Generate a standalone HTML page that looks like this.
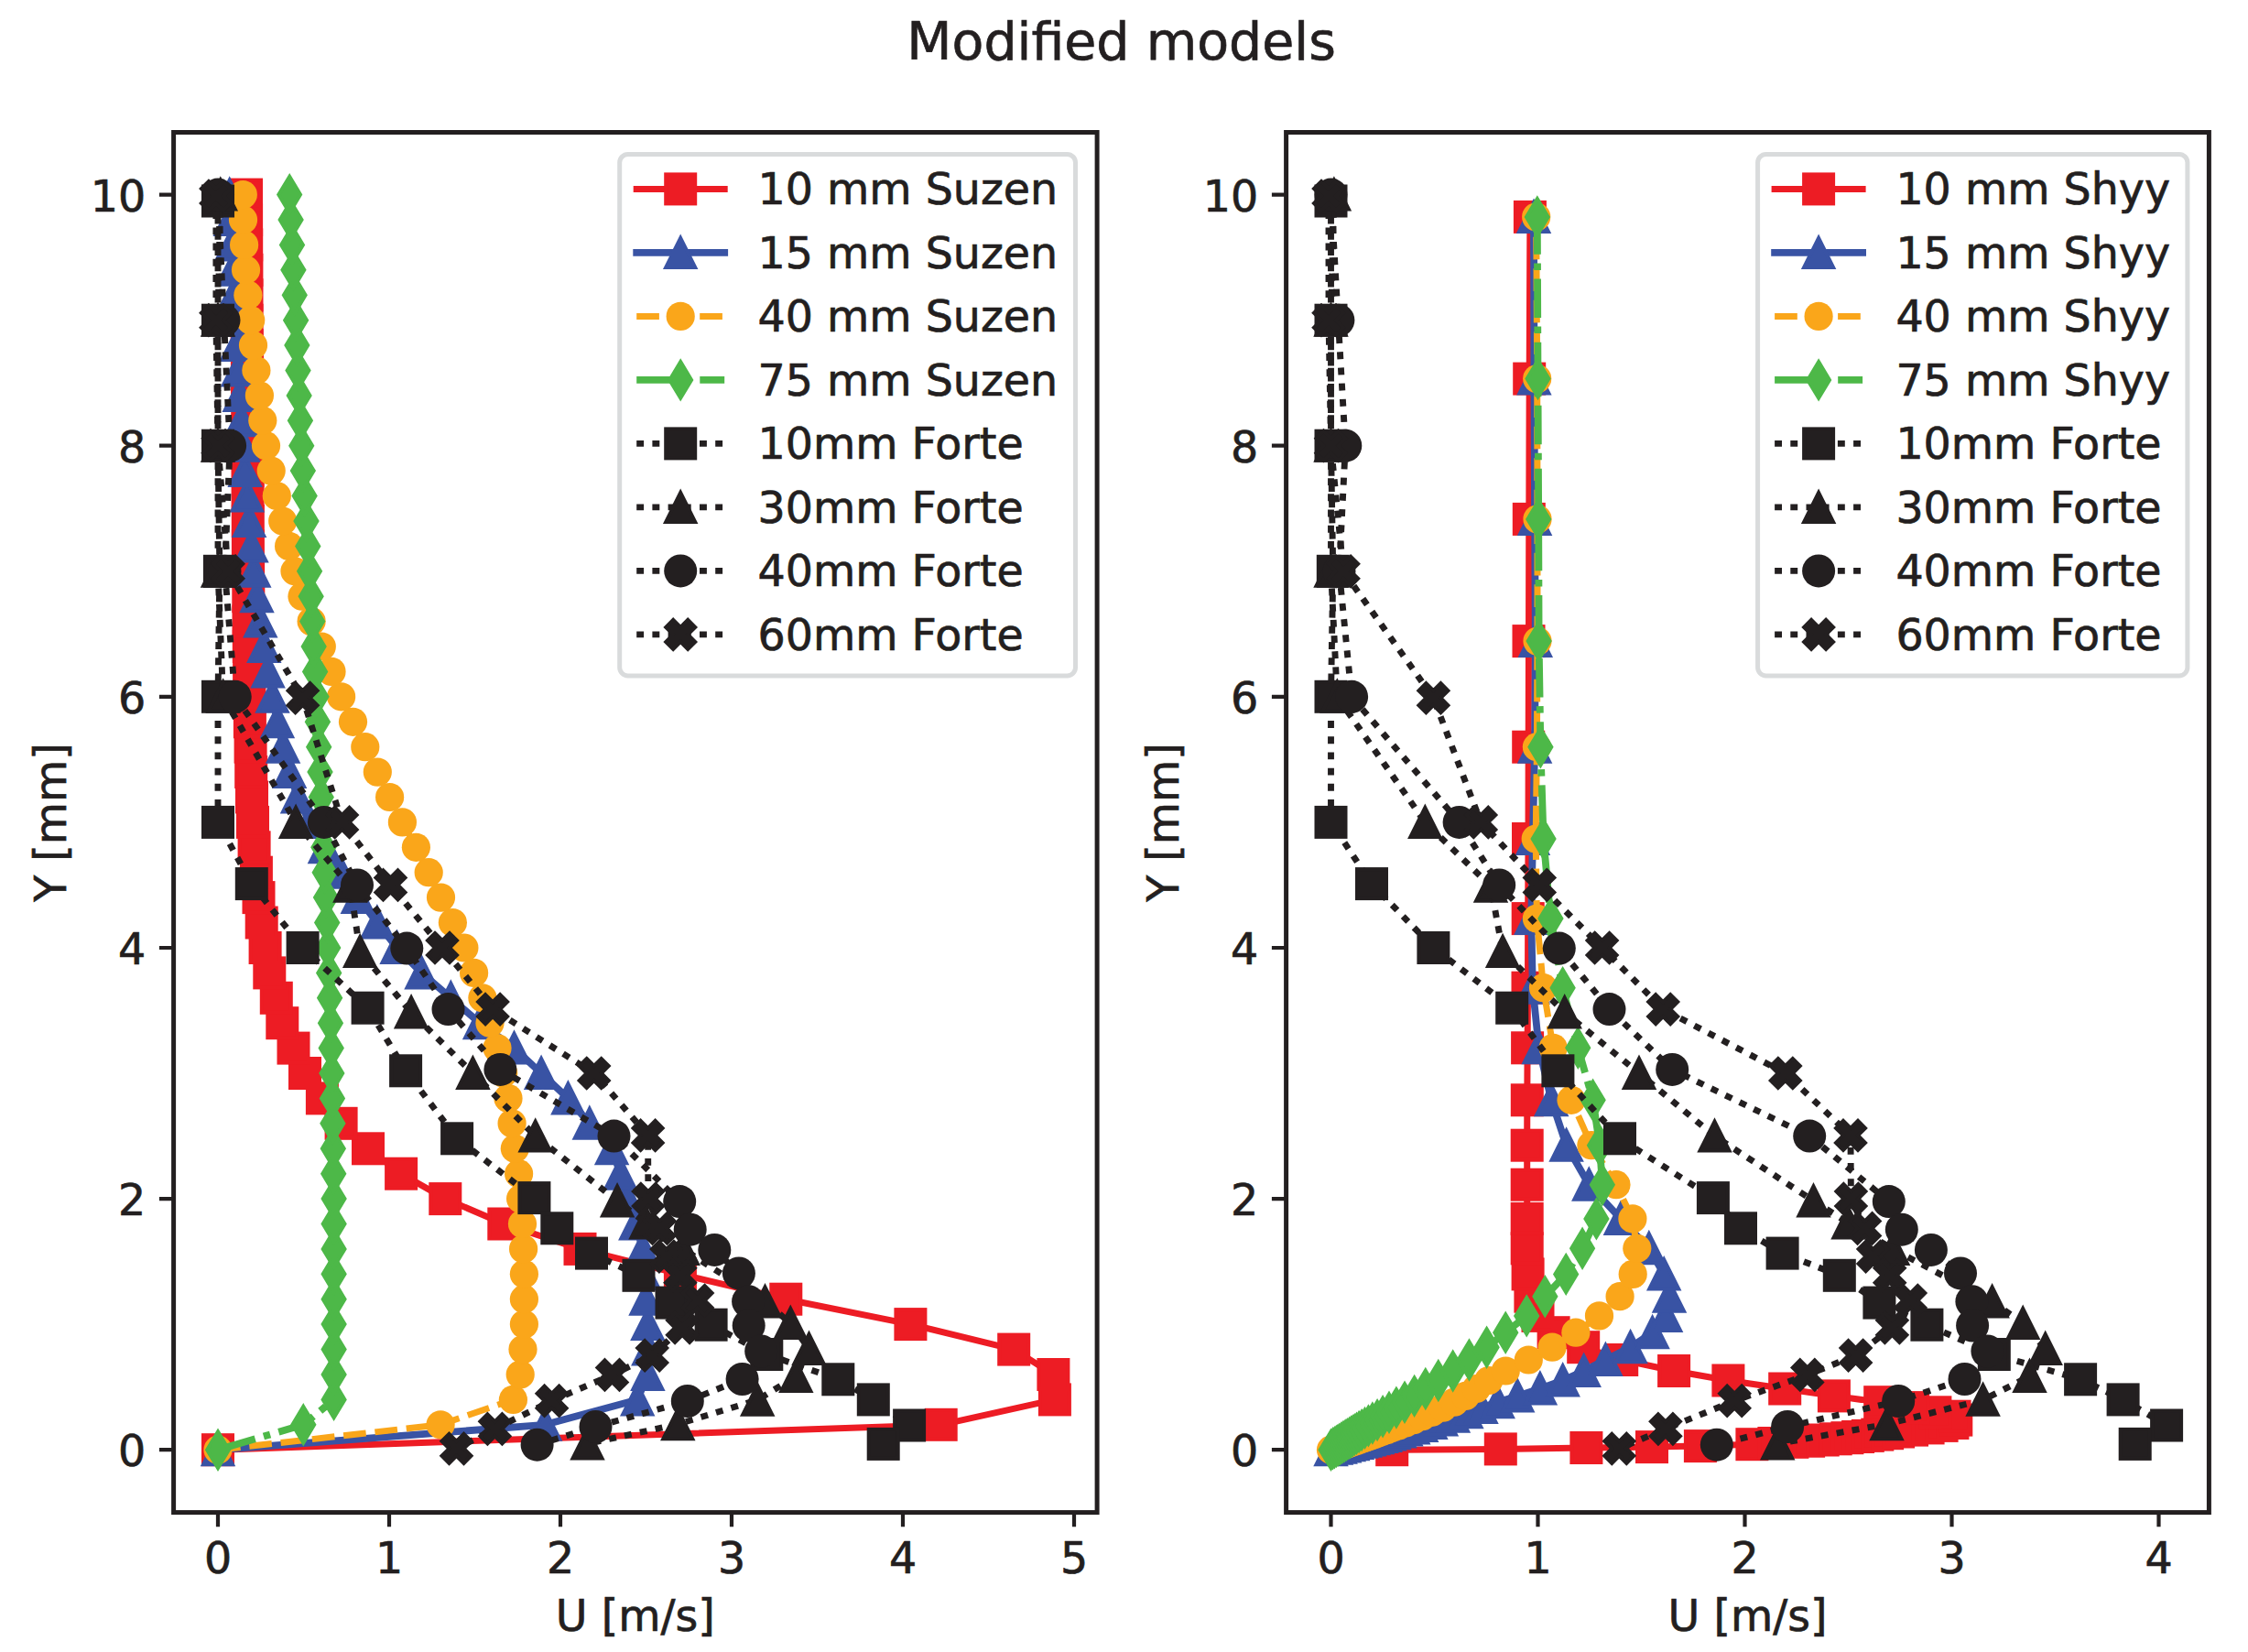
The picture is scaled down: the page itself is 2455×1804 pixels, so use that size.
<!DOCTYPE html>
<html lang="en"><head><meta charset="utf-8"><title>Modified models</title>
<style>text{stroke:#231F20;stroke-width:.7px}html,body{margin:0;padding:0;background:#fff}body{width:2455px;height:1804px;overflow:hidden}</style>
</head><body>
<svg width="2455" height="1804" viewBox="0 0 2455 1804" font-family="'DejaVu Sans','Liberation Sans',sans-serif" style="display:block">
<rect width="2455" height="1804" fill="#fff"/>
<text x="1224.6" y="64.9" font-size="57.0" text-anchor="middle" fill="#231F20">Modified models</text>
<clipPath id="clipL"><rect x="189.6" y="144.5" width="1008.5" height="1507.1"/></clipPath>
<g clip-path="url(#clipL)">
<path d="M238.0 1583.2L1027.7 1555.8L1151.9 1528.4L1150.4 1501.0L1107.2 1473.6L994.4 1446.1L858.3 1418.7L742.9 1391.3L633.5 1363.9L550.3 1336.5L486.3 1309.1L438.1 1281.7L402.0 1254.3L372.6 1226.8L351.9 1199.4L333.0 1172.0L320.5 1144.6L308.3 1117.2L301.8 1089.8L294.3 1062.4L289.6 1035.0L285.7 1007.5L282.5 980.1L279.9 952.7L277.6 925.3L276.0 897.9L275.0 870.5L274.2 843.1L273.6 815.7L272.9 788.3L272.4 760.8L272.1 733.4L271.8 706.0L271.5 678.6L271.3 651.2L271.1 623.8L270.9 596.4L270.8 569.0L270.6 541.5L270.5 514.1L270.4 486.7L270.2 459.3L270.0 431.9L269.9 404.5L269.7 377.1L269.6 349.7L269.5 322.2L269.4 294.8L269.2 267.4L269.1 240.0L269.0 212.6" fill="none" stroke="#ED1C24" stroke-width="7.0" stroke-linejoin="round" stroke-linecap="square"/>
<rect x="222.0" y="1567.2" width="32.0" height="32.0" fill="#ED1C24" stroke="#ED1C24" stroke-width="4.0"/>
<rect x="1011.7" y="1539.8" width="32.0" height="32.0" fill="#ED1C24" stroke="#ED1C24" stroke-width="4.0"/>
<rect x="1135.9" y="1512.4" width="32.0" height="32.0" fill="#ED1C24" stroke="#ED1C24" stroke-width="4.0"/>
<rect x="1134.4" y="1485.0" width="32.0" height="32.0" fill="#ED1C24" stroke="#ED1C24" stroke-width="4.0"/>
<rect x="1091.2" y="1457.6" width="32.0" height="32.0" fill="#ED1C24" stroke="#ED1C24" stroke-width="4.0"/>
<rect x="978.4" y="1430.1" width="32.0" height="32.0" fill="#ED1C24" stroke="#ED1C24" stroke-width="4.0"/>
<rect x="842.3" y="1402.7" width="32.0" height="32.0" fill="#ED1C24" stroke="#ED1C24" stroke-width="4.0"/>
<rect x="726.9" y="1375.3" width="32.0" height="32.0" fill="#ED1C24" stroke="#ED1C24" stroke-width="4.0"/>
<rect x="617.5" y="1347.9" width="32.0" height="32.0" fill="#ED1C24" stroke="#ED1C24" stroke-width="4.0"/>
<rect x="534.3" y="1320.5" width="32.0" height="32.0" fill="#ED1C24" stroke="#ED1C24" stroke-width="4.0"/>
<rect x="470.3" y="1293.1" width="32.0" height="32.0" fill="#ED1C24" stroke="#ED1C24" stroke-width="4.0"/>
<rect x="422.1" y="1265.7" width="32.0" height="32.0" fill="#ED1C24" stroke="#ED1C24" stroke-width="4.0"/>
<rect x="386.0" y="1238.3" width="32.0" height="32.0" fill="#ED1C24" stroke="#ED1C24" stroke-width="4.0"/>
<rect x="356.6" y="1210.8" width="32.0" height="32.0" fill="#ED1C24" stroke="#ED1C24" stroke-width="4.0"/>
<rect x="335.9" y="1183.4" width="32.0" height="32.0" fill="#ED1C24" stroke="#ED1C24" stroke-width="4.0"/>
<rect x="317.0" y="1156.0" width="32.0" height="32.0" fill="#ED1C24" stroke="#ED1C24" stroke-width="4.0"/>
<rect x="304.5" y="1128.6" width="32.0" height="32.0" fill="#ED1C24" stroke="#ED1C24" stroke-width="4.0"/>
<rect x="292.3" y="1101.2" width="32.0" height="32.0" fill="#ED1C24" stroke="#ED1C24" stroke-width="4.0"/>
<rect x="285.8" y="1073.8" width="32.0" height="32.0" fill="#ED1C24" stroke="#ED1C24" stroke-width="4.0"/>
<rect x="278.3" y="1046.4" width="32.0" height="32.0" fill="#ED1C24" stroke="#ED1C24" stroke-width="4.0"/>
<rect x="273.6" y="1019.0" width="32.0" height="32.0" fill="#ED1C24" stroke="#ED1C24" stroke-width="4.0"/>
<rect x="269.7" y="991.5" width="32.0" height="32.0" fill="#ED1C24" stroke="#ED1C24" stroke-width="4.0"/>
<rect x="266.5" y="964.1" width="32.0" height="32.0" fill="#ED1C24" stroke="#ED1C24" stroke-width="4.0"/>
<rect x="263.9" y="936.7" width="32.0" height="32.0" fill="#ED1C24" stroke="#ED1C24" stroke-width="4.0"/>
<rect x="261.6" y="909.3" width="32.0" height="32.0" fill="#ED1C24" stroke="#ED1C24" stroke-width="4.0"/>
<rect x="260.0" y="881.9" width="32.0" height="32.0" fill="#ED1C24" stroke="#ED1C24" stroke-width="4.0"/>
<rect x="259.0" y="854.5" width="32.0" height="32.0" fill="#ED1C24" stroke="#ED1C24" stroke-width="4.0"/>
<rect x="258.2" y="827.1" width="32.0" height="32.0" fill="#ED1C24" stroke="#ED1C24" stroke-width="4.0"/>
<rect x="257.6" y="799.7" width="32.0" height="32.0" fill="#ED1C24" stroke="#ED1C24" stroke-width="4.0"/>
<rect x="256.9" y="772.3" width="32.0" height="32.0" fill="#ED1C24" stroke="#ED1C24" stroke-width="4.0"/>
<rect x="256.4" y="744.8" width="32.0" height="32.0" fill="#ED1C24" stroke="#ED1C24" stroke-width="4.0"/>
<rect x="256.1" y="717.4" width="32.0" height="32.0" fill="#ED1C24" stroke="#ED1C24" stroke-width="4.0"/>
<rect x="255.8" y="690.0" width="32.0" height="32.0" fill="#ED1C24" stroke="#ED1C24" stroke-width="4.0"/>
<rect x="255.5" y="662.6" width="32.0" height="32.0" fill="#ED1C24" stroke="#ED1C24" stroke-width="4.0"/>
<rect x="255.3" y="635.2" width="32.0" height="32.0" fill="#ED1C24" stroke="#ED1C24" stroke-width="4.0"/>
<rect x="255.1" y="607.8" width="32.0" height="32.0" fill="#ED1C24" stroke="#ED1C24" stroke-width="4.0"/>
<rect x="254.9" y="580.4" width="32.0" height="32.0" fill="#ED1C24" stroke="#ED1C24" stroke-width="4.0"/>
<rect x="254.8" y="553.0" width="32.0" height="32.0" fill="#ED1C24" stroke="#ED1C24" stroke-width="4.0"/>
<rect x="254.6" y="525.5" width="32.0" height="32.0" fill="#ED1C24" stroke="#ED1C24" stroke-width="4.0"/>
<rect x="254.5" y="498.1" width="32.0" height="32.0" fill="#ED1C24" stroke="#ED1C24" stroke-width="4.0"/>
<rect x="254.4" y="470.7" width="32.0" height="32.0" fill="#ED1C24" stroke="#ED1C24" stroke-width="4.0"/>
<rect x="254.2" y="443.3" width="32.0" height="32.0" fill="#ED1C24" stroke="#ED1C24" stroke-width="4.0"/>
<rect x="254.0" y="415.9" width="32.0" height="32.0" fill="#ED1C24" stroke="#ED1C24" stroke-width="4.0"/>
<rect x="253.9" y="388.5" width="32.0" height="32.0" fill="#ED1C24" stroke="#ED1C24" stroke-width="4.0"/>
<rect x="253.7" y="361.1" width="32.0" height="32.0" fill="#ED1C24" stroke="#ED1C24" stroke-width="4.0"/>
<rect x="253.6" y="333.7" width="32.0" height="32.0" fill="#ED1C24" stroke="#ED1C24" stroke-width="4.0"/>
<rect x="253.5" y="306.2" width="32.0" height="32.0" fill="#ED1C24" stroke="#ED1C24" stroke-width="4.0"/>
<rect x="253.4" y="278.8" width="32.0" height="32.0" fill="#ED1C24" stroke="#ED1C24" stroke-width="4.0"/>
<rect x="253.2" y="251.4" width="32.0" height="32.0" fill="#ED1C24" stroke="#ED1C24" stroke-width="4.0"/>
<rect x="253.1" y="224.0" width="32.0" height="32.0" fill="#ED1C24" stroke="#ED1C24" stroke-width="4.0"/>
<rect x="253.0" y="196.6" width="32.0" height="32.0" fill="#ED1C24" stroke="#ED1C24" stroke-width="4.0"/>
<path d="M238.0 1583.2L595.2 1555.8L696.2 1528.4L707.4 1501.0L708.3 1473.6L707.4 1446.1L705.5 1418.7L703.6 1391.3L701.8 1363.9L694.3 1336.5L684.9 1309.1L677.5 1281.7L668.1 1254.3L643.8 1226.8L620.4 1199.4L591.1 1172.0L561.5 1144.6L524.1 1117.2L492.3 1089.8L460.5 1062.4L433.6 1035.0L411.9 1007.5L390.8 980.1L372.1 952.7L354.9 925.3L338.0 897.9L325.0 870.5L316.1 843.1L309.1 815.7L302.9 788.3L297.5 760.8L292.6 733.4L288.3 706.0L284.3 678.6L280.5 651.2L277.3 623.8L274.5 596.4L272.1 569.0L269.8 541.5L267.6 514.1L265.5 486.7L263.5 459.3L261.7 431.9L259.9 404.5L258.3 377.1L256.7 349.7L255.3 322.2L253.9 294.8L252.8 267.4L251.7 240.0L250.7 212.6" fill="none" stroke="#3953A4" stroke-width="7.8" stroke-linejoin="round" stroke-linecap="square"/>
<path d="M238.0 1567.2L222.0 1599.2L254.0 1599.2Z" fill="#3953A4" stroke="#3953A4" stroke-width="4.0" stroke-miterlimit="10"/>
<path d="M595.2 1539.8L579.2 1571.8L611.2 1571.8Z" fill="#3953A4" stroke="#3953A4" stroke-width="4.0" stroke-miterlimit="10"/>
<path d="M696.2 1512.4L680.2 1544.4L712.2 1544.4Z" fill="#3953A4" stroke="#3953A4" stroke-width="4.0" stroke-miterlimit="10"/>
<path d="M707.4 1485.0L691.4 1517.0L723.4 1517.0Z" fill="#3953A4" stroke="#3953A4" stroke-width="4.0" stroke-miterlimit="10"/>
<path d="M708.3 1457.6L692.3 1489.6L724.3 1489.6Z" fill="#3953A4" stroke="#3953A4" stroke-width="4.0" stroke-miterlimit="10"/>
<path d="M707.4 1430.1L691.4 1462.1L723.4 1462.1Z" fill="#3953A4" stroke="#3953A4" stroke-width="4.0" stroke-miterlimit="10"/>
<path d="M705.5 1402.7L689.5 1434.7L721.5 1434.7Z" fill="#3953A4" stroke="#3953A4" stroke-width="4.0" stroke-miterlimit="10"/>
<path d="M703.6 1375.3L687.6 1407.3L719.6 1407.3Z" fill="#3953A4" stroke="#3953A4" stroke-width="4.0" stroke-miterlimit="10"/>
<path d="M701.8 1347.9L685.8 1379.9L717.8 1379.9Z" fill="#3953A4" stroke="#3953A4" stroke-width="4.0" stroke-miterlimit="10"/>
<path d="M694.3 1320.5L678.3 1352.5L710.3 1352.5Z" fill="#3953A4" stroke="#3953A4" stroke-width="4.0" stroke-miterlimit="10"/>
<path d="M684.9 1293.1L668.9 1325.1L700.9 1325.1Z" fill="#3953A4" stroke="#3953A4" stroke-width="4.0" stroke-miterlimit="10"/>
<path d="M677.5 1265.7L661.5 1297.7L693.5 1297.7Z" fill="#3953A4" stroke="#3953A4" stroke-width="4.0" stroke-miterlimit="10"/>
<path d="M668.1 1238.3L652.1 1270.3L684.1 1270.3Z" fill="#3953A4" stroke="#3953A4" stroke-width="4.0" stroke-miterlimit="10"/>
<path d="M643.8 1210.8L627.8 1242.8L659.8 1242.8Z" fill="#3953A4" stroke="#3953A4" stroke-width="4.0" stroke-miterlimit="10"/>
<path d="M620.4 1183.4L604.4 1215.4L636.4 1215.4Z" fill="#3953A4" stroke="#3953A4" stroke-width="4.0" stroke-miterlimit="10"/>
<path d="M591.1 1156.0L575.1 1188.0L607.1 1188.0Z" fill="#3953A4" stroke="#3953A4" stroke-width="4.0" stroke-miterlimit="10"/>
<path d="M561.5 1128.6L545.5 1160.6L577.5 1160.6Z" fill="#3953A4" stroke="#3953A4" stroke-width="4.0" stroke-miterlimit="10"/>
<path d="M524.1 1101.2L508.1 1133.2L540.1 1133.2Z" fill="#3953A4" stroke="#3953A4" stroke-width="4.0" stroke-miterlimit="10"/>
<path d="M492.3 1073.8L476.3 1105.8L508.3 1105.8Z" fill="#3953A4" stroke="#3953A4" stroke-width="4.0" stroke-miterlimit="10"/>
<path d="M460.5 1046.4L444.5 1078.4L476.5 1078.4Z" fill="#3953A4" stroke="#3953A4" stroke-width="4.0" stroke-miterlimit="10"/>
<path d="M433.6 1019.0L417.6 1051.0L449.6 1051.0Z" fill="#3953A4" stroke="#3953A4" stroke-width="4.0" stroke-miterlimit="10"/>
<path d="M411.9 991.5L395.9 1023.5L427.9 1023.5Z" fill="#3953A4" stroke="#3953A4" stroke-width="4.0" stroke-miterlimit="10"/>
<path d="M390.8 964.1L374.8 996.1L406.8 996.1Z" fill="#3953A4" stroke="#3953A4" stroke-width="4.0" stroke-miterlimit="10"/>
<path d="M372.1 936.7L356.1 968.7L388.1 968.7Z" fill="#3953A4" stroke="#3953A4" stroke-width="4.0" stroke-miterlimit="10"/>
<path d="M354.9 909.3L338.9 941.3L370.9 941.3Z" fill="#3953A4" stroke="#3953A4" stroke-width="4.0" stroke-miterlimit="10"/>
<path d="M338.0 881.9L322.0 913.9L354.0 913.9Z" fill="#3953A4" stroke="#3953A4" stroke-width="4.0" stroke-miterlimit="10"/>
<path d="M325.0 854.5L309.0 886.5L341.0 886.5Z" fill="#3953A4" stroke="#3953A4" stroke-width="4.0" stroke-miterlimit="10"/>
<path d="M316.1 827.1L300.1 859.1L332.1 859.1Z" fill="#3953A4" stroke="#3953A4" stroke-width="4.0" stroke-miterlimit="10"/>
<path d="M309.1 799.7L293.1 831.7L325.1 831.7Z" fill="#3953A4" stroke="#3953A4" stroke-width="4.0" stroke-miterlimit="10"/>
<path d="M302.9 772.3L286.9 804.3L318.9 804.3Z" fill="#3953A4" stroke="#3953A4" stroke-width="4.0" stroke-miterlimit="10"/>
<path d="M297.5 744.8L281.5 776.8L313.5 776.8Z" fill="#3953A4" stroke="#3953A4" stroke-width="4.0" stroke-miterlimit="10"/>
<path d="M292.6 717.4L276.6 749.4L308.6 749.4Z" fill="#3953A4" stroke="#3953A4" stroke-width="4.0" stroke-miterlimit="10"/>
<path d="M288.3 690.0L272.3 722.0L304.3 722.0Z" fill="#3953A4" stroke="#3953A4" stroke-width="4.0" stroke-miterlimit="10"/>
<path d="M284.3 662.6L268.3 694.6L300.3 694.6Z" fill="#3953A4" stroke="#3953A4" stroke-width="4.0" stroke-miterlimit="10"/>
<path d="M280.5 635.2L264.5 667.2L296.5 667.2Z" fill="#3953A4" stroke="#3953A4" stroke-width="4.0" stroke-miterlimit="10"/>
<path d="M277.3 607.8L261.3 639.8L293.3 639.8Z" fill="#3953A4" stroke="#3953A4" stroke-width="4.0" stroke-miterlimit="10"/>
<path d="M274.5 580.4L258.5 612.4L290.5 612.4Z" fill="#3953A4" stroke="#3953A4" stroke-width="4.0" stroke-miterlimit="10"/>
<path d="M272.1 553.0L256.1 585.0L288.1 585.0Z" fill="#3953A4" stroke="#3953A4" stroke-width="4.0" stroke-miterlimit="10"/>
<path d="M269.8 525.5L253.8 557.5L285.8 557.5Z" fill="#3953A4" stroke="#3953A4" stroke-width="4.0" stroke-miterlimit="10"/>
<path d="M267.6 498.1L251.6 530.1L283.6 530.1Z" fill="#3953A4" stroke="#3953A4" stroke-width="4.0" stroke-miterlimit="10"/>
<path d="M265.5 470.7L249.5 502.7L281.5 502.7Z" fill="#3953A4" stroke="#3953A4" stroke-width="4.0" stroke-miterlimit="10"/>
<path d="M263.5 443.3L247.5 475.3L279.5 475.3Z" fill="#3953A4" stroke="#3953A4" stroke-width="4.0" stroke-miterlimit="10"/>
<path d="M261.7 415.9L245.7 447.9L277.7 447.9Z" fill="#3953A4" stroke="#3953A4" stroke-width="4.0" stroke-miterlimit="10"/>
<path d="M259.9 388.5L243.9 420.5L275.9 420.5Z" fill="#3953A4" stroke="#3953A4" stroke-width="4.0" stroke-miterlimit="10"/>
<path d="M258.3 361.1L242.3 393.1L274.3 393.1Z" fill="#3953A4" stroke="#3953A4" stroke-width="4.0" stroke-miterlimit="10"/>
<path d="M256.7 333.7L240.7 365.7L272.7 365.7Z" fill="#3953A4" stroke="#3953A4" stroke-width="4.0" stroke-miterlimit="10"/>
<path d="M255.3 306.2L239.3 338.2L271.3 338.2Z" fill="#3953A4" stroke="#3953A4" stroke-width="4.0" stroke-miterlimit="10"/>
<path d="M253.9 278.8L237.9 310.8L269.9 310.8Z" fill="#3953A4" stroke="#3953A4" stroke-width="4.0" stroke-miterlimit="10"/>
<path d="M252.8 251.4L236.8 283.4L268.8 283.4Z" fill="#3953A4" stroke="#3953A4" stroke-width="4.0" stroke-miterlimit="10"/>
<path d="M251.7 224.0L235.7 256.0L267.7 256.0Z" fill="#3953A4" stroke="#3953A4" stroke-width="4.0" stroke-miterlimit="10"/>
<path d="M250.7 196.6L234.7 228.6L266.7 228.6Z" fill="#3953A4" stroke="#3953A4" stroke-width="4.0" stroke-miterlimit="10"/>
<path d="M238.0 1583.2L481.1 1555.8L560.4 1528.4L568.2 1501.0L571.0 1473.6L572.4 1446.1L572.4 1418.7L572.4 1391.3L571.6 1363.9L570.5 1336.5L568.6 1309.1L566.6 1281.7L562.3 1254.3L559.1 1226.8L555.0 1199.4L549.7 1172.0L543.0 1144.6L535.0 1117.2L526.9 1089.8L517.6 1062.4L506.9 1035.0L494.4 1007.5L481.5 980.1L468.2 952.7L454.4 925.3L439.4 897.9L425.6 870.5L412.3 843.1L398.8 815.7L385.5 788.3L372.6 760.8L362.0 733.4L351.3 706.0L340.1 678.6L330.0 651.2L322.0 623.8L315.6 596.4L308.7 569.0L302.3 541.5L296.2 514.1L290.5 486.7L286.8 459.3L283.4 431.9L279.9 404.5L276.5 377.1L273.7 349.7L270.9 322.2L268.5 294.8L266.6 267.4L265.5 240.0L265.3 212.6" fill="none" stroke="#FAA61A" stroke-width="7.0" stroke-linejoin="round" stroke-linecap="butt" stroke-dasharray="24.70 9.80"/>
<circle cx="238.0" cy="1583.2" r="15.6" fill="#FAA61A"/>
<circle cx="481.1" cy="1555.8" r="15.6" fill="#FAA61A"/>
<circle cx="560.4" cy="1528.4" r="15.6" fill="#FAA61A"/>
<circle cx="568.2" cy="1501.0" r="15.6" fill="#FAA61A"/>
<circle cx="571.0" cy="1473.6" r="15.6" fill="#FAA61A"/>
<circle cx="572.4" cy="1446.1" r="15.6" fill="#FAA61A"/>
<circle cx="572.4" cy="1418.7" r="15.6" fill="#FAA61A"/>
<circle cx="572.4" cy="1391.3" r="15.6" fill="#FAA61A"/>
<circle cx="571.6" cy="1363.9" r="15.6" fill="#FAA61A"/>
<circle cx="570.5" cy="1336.5" r="15.6" fill="#FAA61A"/>
<circle cx="568.6" cy="1309.1" r="15.6" fill="#FAA61A"/>
<circle cx="566.6" cy="1281.7" r="15.6" fill="#FAA61A"/>
<circle cx="562.3" cy="1254.3" r="15.6" fill="#FAA61A"/>
<circle cx="559.1" cy="1226.8" r="15.6" fill="#FAA61A"/>
<circle cx="555.0" cy="1199.4" r="15.6" fill="#FAA61A"/>
<circle cx="549.7" cy="1172.0" r="15.6" fill="#FAA61A"/>
<circle cx="543.0" cy="1144.6" r="15.6" fill="#FAA61A"/>
<circle cx="535.0" cy="1117.2" r="15.6" fill="#FAA61A"/>
<circle cx="526.9" cy="1089.8" r="15.6" fill="#FAA61A"/>
<circle cx="517.6" cy="1062.4" r="15.6" fill="#FAA61A"/>
<circle cx="506.9" cy="1035.0" r="15.6" fill="#FAA61A"/>
<circle cx="494.4" cy="1007.5" r="15.6" fill="#FAA61A"/>
<circle cx="481.5" cy="980.1" r="15.6" fill="#FAA61A"/>
<circle cx="468.2" cy="952.7" r="15.6" fill="#FAA61A"/>
<circle cx="454.4" cy="925.3" r="15.6" fill="#FAA61A"/>
<circle cx="439.4" cy="897.9" r="15.6" fill="#FAA61A"/>
<circle cx="425.6" cy="870.5" r="15.6" fill="#FAA61A"/>
<circle cx="412.3" cy="843.1" r="15.6" fill="#FAA61A"/>
<circle cx="398.8" cy="815.7" r="15.6" fill="#FAA61A"/>
<circle cx="385.5" cy="788.3" r="15.6" fill="#FAA61A"/>
<circle cx="372.6" cy="760.8" r="15.6" fill="#FAA61A"/>
<circle cx="362.0" cy="733.4" r="15.6" fill="#FAA61A"/>
<circle cx="351.3" cy="706.0" r="15.6" fill="#FAA61A"/>
<circle cx="340.1" cy="678.6" r="15.6" fill="#FAA61A"/>
<circle cx="330.0" cy="651.2" r="15.6" fill="#FAA61A"/>
<circle cx="322.0" cy="623.8" r="15.6" fill="#FAA61A"/>
<circle cx="315.6" cy="596.4" r="15.6" fill="#FAA61A"/>
<circle cx="308.7" cy="569.0" r="15.6" fill="#FAA61A"/>
<circle cx="302.3" cy="541.5" r="15.6" fill="#FAA61A"/>
<circle cx="296.2" cy="514.1" r="15.6" fill="#FAA61A"/>
<circle cx="290.5" cy="486.7" r="15.6" fill="#FAA61A"/>
<circle cx="286.8" cy="459.3" r="15.6" fill="#FAA61A"/>
<circle cx="283.4" cy="431.9" r="15.6" fill="#FAA61A"/>
<circle cx="279.9" cy="404.5" r="15.6" fill="#FAA61A"/>
<circle cx="276.5" cy="377.1" r="15.6" fill="#FAA61A"/>
<circle cx="273.7" cy="349.7" r="15.6" fill="#FAA61A"/>
<circle cx="270.9" cy="322.2" r="15.6" fill="#FAA61A"/>
<circle cx="268.5" cy="294.8" r="15.6" fill="#FAA61A"/>
<circle cx="266.6" cy="267.4" r="15.6" fill="#FAA61A"/>
<circle cx="265.5" cy="240.0" r="15.6" fill="#FAA61A"/>
<circle cx="265.3" cy="212.6" r="15.6" fill="#FAA61A"/>
<path d="M238.0 1583.2L331.3 1555.8L364.6 1528.4L364.6 1501.0L364.6 1473.6L364.6 1446.1L364.6 1418.7L364.6 1391.3L364.6 1363.9L364.6 1336.5L364.6 1309.1L364.2 1281.7L363.8 1254.3L363.4 1226.8L362.9 1199.4L362.4 1172.0L361.7 1144.6L361.0 1117.2L360.1 1089.8L359.2 1062.4L358.2 1035.0L357.2 1007.5L356.0 980.1L354.7 952.7L353.4 925.3L352.1 897.9L350.8 870.5L349.5 843.1L348.2 815.7L346.9 788.3L345.5 760.8L344.1 733.4L342.7 706.0L341.2 678.6L339.6 651.2L338.0 623.8L336.3 596.4L334.5 569.0L332.6 541.5L330.8 514.1L329.3 486.7L327.9 459.3L326.7 431.9L325.5 404.5L324.3 377.1L323.1 349.7L321.8 322.2L320.4 294.8L319.0 267.4L317.6 240.0L316.2 212.6" fill="none" stroke="#4DB848" stroke-width="7.8" stroke-linejoin="round" stroke-linecap="butt" stroke-dasharray="42.40 9.60 7.50 9.60"/>
<path d="M238.0 1563.4L249.9 1583.2L238.0 1603.0L226.1 1583.2Z" fill="#4DB848" stroke="#4DB848" stroke-width="4.0" stroke-miterlimit="10"/>
<path d="M331.3 1536.0L343.2 1555.8L331.3 1575.6L319.4 1555.8Z" fill="#4DB848" stroke="#4DB848" stroke-width="4.0" stroke-miterlimit="10"/>
<path d="M364.6 1508.6L376.5 1528.4L364.6 1548.2L352.7 1528.4Z" fill="#4DB848" stroke="#4DB848" stroke-width="4.0" stroke-miterlimit="10"/>
<path d="M364.6 1481.2L376.5 1501.0L364.6 1520.8L352.7 1501.0Z" fill="#4DB848" stroke="#4DB848" stroke-width="4.0" stroke-miterlimit="10"/>
<path d="M364.6 1453.8L376.5 1473.6L364.6 1493.4L352.7 1473.6Z" fill="#4DB848" stroke="#4DB848" stroke-width="4.0" stroke-miterlimit="10"/>
<path d="M364.6 1426.3L376.5 1446.1L364.6 1465.9L352.7 1446.1Z" fill="#4DB848" stroke="#4DB848" stroke-width="4.0" stroke-miterlimit="10"/>
<path d="M364.6 1398.9L376.5 1418.7L364.6 1438.5L352.7 1418.7Z" fill="#4DB848" stroke="#4DB848" stroke-width="4.0" stroke-miterlimit="10"/>
<path d="M364.6 1371.5L376.5 1391.3L364.6 1411.1L352.7 1391.3Z" fill="#4DB848" stroke="#4DB848" stroke-width="4.0" stroke-miterlimit="10"/>
<path d="M364.6 1344.1L376.5 1363.9L364.6 1383.7L352.7 1363.9Z" fill="#4DB848" stroke="#4DB848" stroke-width="4.0" stroke-miterlimit="10"/>
<path d="M364.6 1316.7L376.5 1336.5L364.6 1356.3L352.7 1336.5Z" fill="#4DB848" stroke="#4DB848" stroke-width="4.0" stroke-miterlimit="10"/>
<path d="M364.6 1289.3L376.5 1309.1L364.6 1328.9L352.7 1309.1Z" fill="#4DB848" stroke="#4DB848" stroke-width="4.0" stroke-miterlimit="10"/>
<path d="M364.2 1261.9L376.1 1281.7L364.2 1301.5L352.3 1281.7Z" fill="#4DB848" stroke="#4DB848" stroke-width="4.0" stroke-miterlimit="10"/>
<path d="M363.8 1234.5L375.7 1254.3L363.8 1274.1L351.9 1254.3Z" fill="#4DB848" stroke="#4DB848" stroke-width="4.0" stroke-miterlimit="10"/>
<path d="M363.4 1207.0L375.3 1226.8L363.4 1246.6L351.5 1226.8Z" fill="#4DB848" stroke="#4DB848" stroke-width="4.0" stroke-miterlimit="10"/>
<path d="M362.9 1179.6L374.8 1199.4L362.9 1219.2L351.0 1199.4Z" fill="#4DB848" stroke="#4DB848" stroke-width="4.0" stroke-miterlimit="10"/>
<path d="M362.4 1152.2L374.2 1172.0L362.4 1191.8L350.5 1172.0Z" fill="#4DB848" stroke="#4DB848" stroke-width="4.0" stroke-miterlimit="10"/>
<path d="M361.7 1124.8L373.6 1144.6L361.7 1164.4L349.8 1144.6Z" fill="#4DB848" stroke="#4DB848" stroke-width="4.0" stroke-miterlimit="10"/>
<path d="M361.0 1097.4L372.8 1117.2L361.0 1137.0L349.1 1117.2Z" fill="#4DB848" stroke="#4DB848" stroke-width="4.0" stroke-miterlimit="10"/>
<path d="M360.1 1070.0L372.0 1089.8L360.1 1109.6L348.2 1089.8Z" fill="#4DB848" stroke="#4DB848" stroke-width="4.0" stroke-miterlimit="10"/>
<path d="M359.2 1042.6L371.1 1062.4L359.2 1082.2L347.3 1062.4Z" fill="#4DB848" stroke="#4DB848" stroke-width="4.0" stroke-miterlimit="10"/>
<path d="M358.2 1015.2L370.1 1035.0L358.2 1054.8L346.4 1035.0Z" fill="#4DB848" stroke="#4DB848" stroke-width="4.0" stroke-miterlimit="10"/>
<path d="M357.2 987.7L369.1 1007.5L357.2 1027.3L345.3 1007.5Z" fill="#4DB848" stroke="#4DB848" stroke-width="4.0" stroke-miterlimit="10"/>
<path d="M356.0 960.3L367.9 980.1L356.0 999.9L344.1 980.1Z" fill="#4DB848" stroke="#4DB848" stroke-width="4.0" stroke-miterlimit="10"/>
<path d="M354.7 932.9L366.6 952.7L354.7 972.5L342.8 952.7Z" fill="#4DB848" stroke="#4DB848" stroke-width="4.0" stroke-miterlimit="10"/>
<path d="M353.4 905.5L365.3 925.3L353.4 945.1L341.5 925.3Z" fill="#4DB848" stroke="#4DB848" stroke-width="4.0" stroke-miterlimit="10"/>
<path d="M352.1 878.1L363.9 897.9L352.1 917.7L340.2 897.9Z" fill="#4DB848" stroke="#4DB848" stroke-width="4.0" stroke-miterlimit="10"/>
<path d="M350.8 850.7L362.6 870.5L350.8 890.3L338.9 870.5Z" fill="#4DB848" stroke="#4DB848" stroke-width="4.0" stroke-miterlimit="10"/>
<path d="M349.5 823.3L361.4 843.1L349.5 862.9L337.6 843.1Z" fill="#4DB848" stroke="#4DB848" stroke-width="4.0" stroke-miterlimit="10"/>
<path d="M348.2 795.9L360.1 815.7L348.2 835.5L336.3 815.7Z" fill="#4DB848" stroke="#4DB848" stroke-width="4.0" stroke-miterlimit="10"/>
<path d="M346.9 768.5L358.8 788.3L346.9 808.1L335.0 788.3Z" fill="#4DB848" stroke="#4DB848" stroke-width="4.0" stroke-miterlimit="10"/>
<path d="M345.5 741.0L357.4 760.8L345.5 780.6L333.6 760.8Z" fill="#4DB848" stroke="#4DB848" stroke-width="4.0" stroke-miterlimit="10"/>
<path d="M344.1 713.6L356.0 733.4L344.1 753.2L332.2 733.4Z" fill="#4DB848" stroke="#4DB848" stroke-width="4.0" stroke-miterlimit="10"/>
<path d="M342.7 686.2L354.5 706.0L342.7 725.8L330.8 706.0Z" fill="#4DB848" stroke="#4DB848" stroke-width="4.0" stroke-miterlimit="10"/>
<path d="M341.2 658.8L353.1 678.6L341.2 698.4L329.3 678.6Z" fill="#4DB848" stroke="#4DB848" stroke-width="4.0" stroke-miterlimit="10"/>
<path d="M339.6 631.4L351.5 651.2L339.6 671.0L327.8 651.2Z" fill="#4DB848" stroke="#4DB848" stroke-width="4.0" stroke-miterlimit="10"/>
<path d="M338.0 604.0L349.9 623.8L338.0 643.6L326.2 623.8Z" fill="#4DB848" stroke="#4DB848" stroke-width="4.0" stroke-miterlimit="10"/>
<path d="M336.3 576.6L348.2 596.4L336.3 616.2L324.4 596.4Z" fill="#4DB848" stroke="#4DB848" stroke-width="4.0" stroke-miterlimit="10"/>
<path d="M334.5 549.2L346.4 569.0L334.5 588.8L322.6 569.0Z" fill="#4DB848" stroke="#4DB848" stroke-width="4.0" stroke-miterlimit="10"/>
<path d="M332.6 521.7L344.5 541.5L332.6 561.3L320.7 541.5Z" fill="#4DB848" stroke="#4DB848" stroke-width="4.0" stroke-miterlimit="10"/>
<path d="M330.8 494.3L342.7 514.1L330.8 533.9L319.0 514.1Z" fill="#4DB848" stroke="#4DB848" stroke-width="4.0" stroke-miterlimit="10"/>
<path d="M329.3 466.9L341.1 486.7L329.3 506.5L317.4 486.7Z" fill="#4DB848" stroke="#4DB848" stroke-width="4.0" stroke-miterlimit="10"/>
<path d="M327.9 439.5L339.8 459.3L327.9 479.1L316.0 459.3Z" fill="#4DB848" stroke="#4DB848" stroke-width="4.0" stroke-miterlimit="10"/>
<path d="M326.7 412.1L338.5 431.9L326.7 451.7L314.8 431.9Z" fill="#4DB848" stroke="#4DB848" stroke-width="4.0" stroke-miterlimit="10"/>
<path d="M325.5 384.7L337.4 404.5L325.5 424.3L313.6 404.5Z" fill="#4DB848" stroke="#4DB848" stroke-width="4.0" stroke-miterlimit="10"/>
<path d="M324.3 357.3L336.2 377.1L324.3 396.9L312.5 377.1Z" fill="#4DB848" stroke="#4DB848" stroke-width="4.0" stroke-miterlimit="10"/>
<path d="M323.1 329.9L335.0 349.7L323.1 369.5L311.2 349.7Z" fill="#4DB848" stroke="#4DB848" stroke-width="4.0" stroke-miterlimit="10"/>
<path d="M321.8 302.4L333.6 322.2L321.8 342.0L309.9 322.2Z" fill="#4DB848" stroke="#4DB848" stroke-width="4.0" stroke-miterlimit="10"/>
<path d="M320.4 275.0L332.3 294.8L320.4 314.6L308.5 294.8Z" fill="#4DB848" stroke="#4DB848" stroke-width="4.0" stroke-miterlimit="10"/>
<path d="M319.0 247.6L330.9 267.4L319.0 287.2L307.1 267.4Z" fill="#4DB848" stroke="#4DB848" stroke-width="4.0" stroke-miterlimit="10"/>
<path d="M317.6 220.2L329.5 240.0L317.6 259.8L305.7 240.0Z" fill="#4DB848" stroke="#4DB848" stroke-width="4.0" stroke-miterlimit="10"/>
<path d="M316.2 192.8L328.0 212.6L316.2 232.4L304.3 212.6Z" fill="#4DB848" stroke="#4DB848" stroke-width="4.0" stroke-miterlimit="10"/>
<path d="M238.0 219.5L238.0 349.7L238.0 486.7L239.9 623.8L238.0 760.8L238.0 897.9L274.8 965.1L330.6 1035.0L401.6 1100.7L443.1 1169.3L499.1 1243.3L583.4 1308.1L608.3 1341.3L646.0 1368.6L697.5 1392.8L733.5 1422.6L776.6 1446.7L837.3 1479.0L915.3 1506.3L953.8 1528.4L993.1 1556.5L964.7 1576.9" fill="none" stroke="#231F20" stroke-width="6.9" stroke-linejoin="round" stroke-linecap="butt" stroke-dasharray="7.90 9.30"/>
<rect x="222.0" y="203.5" width="32.0" height="32.0" fill="#231F20" stroke="#231F20" stroke-width="4.0"/>
<rect x="222.0" y="333.7" width="32.0" height="32.0" fill="#231F20" stroke="#231F20" stroke-width="4.0"/>
<rect x="222.0" y="470.7" width="32.0" height="32.0" fill="#231F20" stroke="#231F20" stroke-width="4.0"/>
<rect x="223.9" y="607.8" width="32.0" height="32.0" fill="#231F20" stroke="#231F20" stroke-width="4.0"/>
<rect x="222.0" y="744.8" width="32.0" height="32.0" fill="#231F20" stroke="#231F20" stroke-width="4.0"/>
<rect x="222.0" y="881.9" width="32.0" height="32.0" fill="#231F20" stroke="#231F20" stroke-width="4.0"/>
<rect x="258.8" y="949.1" width="32.0" height="32.0" fill="#231F20" stroke="#231F20" stroke-width="4.0"/>
<rect x="314.6" y="1019.0" width="32.0" height="32.0" fill="#231F20" stroke="#231F20" stroke-width="4.0"/>
<rect x="385.6" y="1084.7" width="32.0" height="32.0" fill="#231F20" stroke="#231F20" stroke-width="4.0"/>
<rect x="427.1" y="1153.3" width="32.0" height="32.0" fill="#231F20" stroke="#231F20" stroke-width="4.0"/>
<rect x="483.1" y="1227.3" width="32.0" height="32.0" fill="#231F20" stroke="#231F20" stroke-width="4.0"/>
<rect x="567.4" y="1292.1" width="32.0" height="32.0" fill="#231F20" stroke="#231F20" stroke-width="4.0"/>
<rect x="592.3" y="1325.3" width="32.0" height="32.0" fill="#231F20" stroke="#231F20" stroke-width="4.0"/>
<rect x="630.0" y="1352.6" width="32.0" height="32.0" fill="#231F20" stroke="#231F20" stroke-width="4.0"/>
<rect x="681.5" y="1376.8" width="32.0" height="32.0" fill="#231F20" stroke="#231F20" stroke-width="4.0"/>
<rect x="717.5" y="1406.6" width="32.0" height="32.0" fill="#231F20" stroke="#231F20" stroke-width="4.0"/>
<rect x="760.6" y="1430.7" width="32.0" height="32.0" fill="#231F20" stroke="#231F20" stroke-width="4.0"/>
<rect x="821.3" y="1463.0" width="32.0" height="32.0" fill="#231F20" stroke="#231F20" stroke-width="4.0"/>
<rect x="899.3" y="1490.3" width="32.0" height="32.0" fill="#231F20" stroke="#231F20" stroke-width="4.0"/>
<rect x="937.8" y="1512.4" width="32.0" height="32.0" fill="#231F20" stroke="#231F20" stroke-width="4.0"/>
<rect x="977.1" y="1540.5" width="32.0" height="32.0" fill="#231F20" stroke="#231F20" stroke-width="4.0"/>
<rect x="948.7" y="1560.9" width="32.0" height="32.0" fill="#231F20" stroke="#231F20" stroke-width="4.0"/>
<path d="M240.8 212.6L238.0 349.7L238.0 486.7L238.0 623.8L243.6 760.8L323.1 897.9L382.4 967.8L393.2 1039.1L449.1 1105.5L516.4 1172.0L584.7 1240.6L674.1 1311.4L705.5 1335.5L745.7 1363.9L835.5 1421.5L863.3 1445.0L883.5 1472.9L869.3 1503.0L827.2 1528.7L740.3 1555.2L641.5 1576.6" fill="none" stroke="#231F20" stroke-width="6.9" stroke-linejoin="round" stroke-linecap="butt" stroke-dasharray="7.90 9.30"/>
<path d="M240.8 196.6L224.8 228.6L256.8 228.6Z" fill="#231F20" stroke="#231F20" stroke-width="4.0" stroke-miterlimit="10"/>
<path d="M238.0 333.7L222.0 365.7L254.0 365.7Z" fill="#231F20" stroke="#231F20" stroke-width="4.0" stroke-miterlimit="10"/>
<path d="M238.0 470.7L222.0 502.7L254.0 502.7Z" fill="#231F20" stroke="#231F20" stroke-width="4.0" stroke-miterlimit="10"/>
<path d="M238.0 607.8L222.0 639.8L254.0 639.8Z" fill="#231F20" stroke="#231F20" stroke-width="4.0" stroke-miterlimit="10"/>
<path d="M243.6 744.8L227.6 776.8L259.6 776.8Z" fill="#231F20" stroke="#231F20" stroke-width="4.0" stroke-miterlimit="10"/>
<path d="M323.1 881.9L307.1 913.9L339.1 913.9Z" fill="#231F20" stroke="#231F20" stroke-width="4.0" stroke-miterlimit="10"/>
<path d="M382.4 951.8L366.4 983.8L398.4 983.8Z" fill="#231F20" stroke="#231F20" stroke-width="4.0" stroke-miterlimit="10"/>
<path d="M393.2 1023.1L377.2 1055.1L409.2 1055.1Z" fill="#231F20" stroke="#231F20" stroke-width="4.0" stroke-miterlimit="10"/>
<path d="M449.1 1089.5L433.1 1121.5L465.1 1121.5Z" fill="#231F20" stroke="#231F20" stroke-width="4.0" stroke-miterlimit="10"/>
<path d="M516.4 1156.0L500.4 1188.0L532.4 1188.0Z" fill="#231F20" stroke="#231F20" stroke-width="4.0" stroke-miterlimit="10"/>
<path d="M584.7 1224.6L568.7 1256.6L600.7 1256.6Z" fill="#231F20" stroke="#231F20" stroke-width="4.0" stroke-miterlimit="10"/>
<path d="M674.1 1295.4L658.1 1327.4L690.1 1327.4Z" fill="#231F20" stroke="#231F20" stroke-width="4.0" stroke-miterlimit="10"/>
<path d="M705.5 1319.5L689.5 1351.5L721.5 1351.5Z" fill="#231F20" stroke="#231F20" stroke-width="4.0" stroke-miterlimit="10"/>
<path d="M745.7 1347.9L729.7 1379.9L761.7 1379.9Z" fill="#231F20" stroke="#231F20" stroke-width="4.0" stroke-miterlimit="10"/>
<path d="M835.5 1405.5L819.5 1437.5L851.5 1437.5Z" fill="#231F20" stroke="#231F20" stroke-width="4.0" stroke-miterlimit="10"/>
<path d="M863.3 1429.0L847.3 1461.0L879.3 1461.0Z" fill="#231F20" stroke="#231F20" stroke-width="4.0" stroke-miterlimit="10"/>
<path d="M883.5 1456.9L867.5 1488.9L899.5 1488.9Z" fill="#231F20" stroke="#231F20" stroke-width="4.0" stroke-miterlimit="10"/>
<path d="M869.3 1487.0L853.3 1519.0L885.3 1519.0Z" fill="#231F20" stroke="#231F20" stroke-width="4.0" stroke-miterlimit="10"/>
<path d="M827.2 1512.7L811.2 1544.7L843.2 1544.7Z" fill="#231F20" stroke="#231F20" stroke-width="4.0" stroke-miterlimit="10"/>
<path d="M740.3 1539.2L724.3 1571.2L756.3 1571.2Z" fill="#231F20" stroke="#231F20" stroke-width="4.0" stroke-miterlimit="10"/>
<path d="M641.5 1560.6L625.5 1592.6L657.5 1592.6Z" fill="#231F20" stroke="#231F20" stroke-width="4.0" stroke-miterlimit="10"/>
<path d="M238.0 212.6L244.5 349.7L251.1 486.7L245.5 623.8L256.7 760.8L353.9 897.9L390.0 966.4L444.3 1035.6L489.5 1102.1L546.4 1167.9L670.5 1240.6L742.2 1312.1L753.7 1342.7L780.3 1364.9L806.9 1390.4L817.1 1421.2L817.7 1447.5L831.2 1475.5L810.6 1506.0L750.8 1530.0L650.5 1558.0L586.6 1577.7" fill="none" stroke="#231F20" stroke-width="6.9" stroke-linejoin="round" stroke-linecap="butt" stroke-dasharray="7.90 9.30"/>
<circle cx="238.0" cy="212.6" r="18.0" fill="#231F20"/>
<circle cx="244.5" cy="349.7" r="18.0" fill="#231F20"/>
<circle cx="251.1" cy="486.7" r="18.0" fill="#231F20"/>
<circle cx="245.5" cy="623.8" r="18.0" fill="#231F20"/>
<circle cx="256.7" cy="760.8" r="18.0" fill="#231F20"/>
<circle cx="353.9" cy="897.9" r="18.0" fill="#231F20"/>
<circle cx="390.0" cy="966.4" r="18.0" fill="#231F20"/>
<circle cx="444.3" cy="1035.6" r="18.0" fill="#231F20"/>
<circle cx="489.5" cy="1102.1" r="18.0" fill="#231F20"/>
<circle cx="546.4" cy="1167.9" r="18.0" fill="#231F20"/>
<circle cx="670.5" cy="1240.6" r="18.0" fill="#231F20"/>
<circle cx="742.2" cy="1312.1" r="18.0" fill="#231F20"/>
<circle cx="753.7" cy="1342.7" r="18.0" fill="#231F20"/>
<circle cx="780.3" cy="1364.9" r="18.0" fill="#231F20"/>
<circle cx="806.9" cy="1390.4" r="18.0" fill="#231F20"/>
<circle cx="817.1" cy="1421.2" r="18.0" fill="#231F20"/>
<circle cx="817.7" cy="1447.5" r="18.0" fill="#231F20"/>
<circle cx="831.2" cy="1475.5" r="18.0" fill="#231F20"/>
<circle cx="810.6" cy="1506.0" r="18.0" fill="#231F20"/>
<circle cx="750.8" cy="1530.0" r="18.0" fill="#231F20"/>
<circle cx="650.5" cy="1558.0" r="18.0" fill="#231F20"/>
<circle cx="586.6" cy="1577.7" r="18.0" fill="#231F20"/>
<path d="M235.9 214.0L235.9 349.7L238.0 486.7L249.2 623.8L330.6 762.2L373.6 897.9L426.5 966.4L483.0 1035.0L538.1 1102.1L648.7 1172.0L707.6 1239.9L707.9 1309.1L720.5 1341.4L727.9 1372.1L742.9 1392.7L761.6 1420.1L745.1 1449.8L712.2 1480.1L668.5 1501.4L602.6 1529.7L540.4 1560.3L498.5 1581.8" fill="none" stroke="#231F20" stroke-width="6.9" stroke-linejoin="round" stroke-linecap="butt" stroke-dasharray="7.90 9.30"/>
<path d="M227.9 198.0L235.9 206.0L243.9 198.0L251.9 206.0L243.9 214.0L251.9 222.0L243.9 230.0L235.9 222.0L227.9 230.0L219.9 222.0L227.9 214.0L219.9 206.0Z" fill="#231F20" stroke="#231F20" stroke-width="4.0" stroke-miterlimit="10"/>
<path d="M227.9 333.7L235.9 341.7L243.9 333.7L251.9 341.7L243.9 349.7L251.9 357.7L243.9 365.7L235.9 357.7L227.9 365.7L219.9 357.7L227.9 349.7L219.9 341.7Z" fill="#231F20" stroke="#231F20" stroke-width="4.0" stroke-miterlimit="10"/>
<path d="M230.0 470.7L238.0 478.7L246.0 470.7L254.0 478.7L246.0 486.7L254.0 494.7L246.0 502.7L238.0 494.7L230.0 502.7L222.0 494.7L230.0 486.7L222.0 478.7Z" fill="#231F20" stroke="#231F20" stroke-width="4.0" stroke-miterlimit="10"/>
<path d="M241.2 607.8L249.2 615.8L257.2 607.8L265.2 615.8L257.2 623.8L265.2 631.8L257.2 639.8L249.2 631.8L241.2 639.8L233.2 631.8L241.2 623.8L233.2 615.8Z" fill="#231F20" stroke="#231F20" stroke-width="4.0" stroke-miterlimit="10"/>
<path d="M322.6 746.2L330.6 754.2L338.6 746.2L346.6 754.2L338.6 762.2L346.6 770.2L338.6 778.2L330.6 770.2L322.6 778.2L314.6 770.2L322.6 762.2L314.6 754.2Z" fill="#231F20" stroke="#231F20" stroke-width="4.0" stroke-miterlimit="10"/>
<path d="M365.6 881.9L373.6 889.9L381.6 881.9L389.6 889.9L381.6 897.9L389.6 905.9L381.6 913.9L373.6 905.9L365.6 913.9L357.6 905.9L365.6 897.9L357.6 889.9Z" fill="#231F20" stroke="#231F20" stroke-width="4.0" stroke-miterlimit="10"/>
<path d="M418.5 950.4L426.5 958.4L434.5 950.4L442.5 958.4L434.5 966.4L442.5 974.4L434.5 982.4L426.5 974.4L418.5 982.4L410.5 974.4L418.5 966.4L410.5 958.4Z" fill="#231F20" stroke="#231F20" stroke-width="4.0" stroke-miterlimit="10"/>
<path d="M475.0 1019.0L483.0 1027.0L491.0 1019.0L499.0 1027.0L491.0 1035.0L499.0 1043.0L491.0 1051.0L483.0 1043.0L475.0 1051.0L467.0 1043.0L475.0 1035.0L467.0 1027.0Z" fill="#231F20" stroke="#231F20" stroke-width="4.0" stroke-miterlimit="10"/>
<path d="M530.1 1086.1L538.1 1094.1L546.1 1086.1L554.1 1094.1L546.1 1102.1L554.1 1110.1L546.1 1118.1L538.1 1110.1L530.1 1118.1L522.1 1110.1L530.1 1102.1L522.1 1094.1Z" fill="#231F20" stroke="#231F20" stroke-width="4.0" stroke-miterlimit="10"/>
<path d="M640.7 1156.0L648.7 1164.0L656.7 1156.0L664.7 1164.0L656.7 1172.0L664.7 1180.0L656.7 1188.0L648.7 1180.0L640.7 1188.0L632.7 1180.0L640.7 1172.0L632.7 1164.0Z" fill="#231F20" stroke="#231F20" stroke-width="4.0" stroke-miterlimit="10"/>
<path d="M699.6 1223.9L707.6 1231.9L715.6 1223.9L723.6 1231.9L715.6 1239.9L723.6 1247.9L715.6 1255.9L707.6 1247.9L699.6 1255.9L691.6 1247.9L699.6 1239.9L691.6 1231.9Z" fill="#231F20" stroke="#231F20" stroke-width="4.0" stroke-miterlimit="10"/>
<path d="M699.9 1293.1L707.9 1301.1L715.9 1293.1L723.9 1301.1L715.9 1309.1L723.9 1317.1L715.9 1325.1L707.9 1317.1L699.9 1325.1L691.9 1317.1L699.9 1309.1L691.9 1301.1Z" fill="#231F20" stroke="#231F20" stroke-width="4.0" stroke-miterlimit="10"/>
<path d="M712.5 1325.4L720.5 1333.4L728.5 1325.4L736.5 1333.4L728.5 1341.4L736.5 1349.4L728.5 1357.4L720.5 1349.4L712.5 1357.4L704.5 1349.4L712.5 1341.4L704.5 1333.4Z" fill="#231F20" stroke="#231F20" stroke-width="4.0" stroke-miterlimit="10"/>
<path d="M719.9 1356.1L727.9 1364.1L735.9 1356.1L743.9 1364.1L735.9 1372.1L743.9 1380.1L735.9 1388.1L727.9 1380.1L719.9 1388.1L711.9 1380.1L719.9 1372.1L711.9 1364.1Z" fill="#231F20" stroke="#231F20" stroke-width="4.0" stroke-miterlimit="10"/>
<path d="M734.9 1376.7L742.9 1384.7L750.9 1376.7L758.9 1384.7L750.9 1392.7L758.9 1400.7L750.9 1408.7L742.9 1400.7L734.9 1408.7L726.9 1400.7L734.9 1392.7L726.9 1384.7Z" fill="#231F20" stroke="#231F20" stroke-width="4.0" stroke-miterlimit="10"/>
<path d="M753.6 1404.1L761.6 1412.1L769.6 1404.1L777.6 1412.1L769.6 1420.1L777.6 1428.1L769.6 1436.1L761.6 1428.1L753.6 1436.1L745.6 1428.1L753.6 1420.1L745.6 1412.1Z" fill="#231F20" stroke="#231F20" stroke-width="4.0" stroke-miterlimit="10"/>
<path d="M737.1 1433.8L745.1 1441.8L753.1 1433.8L761.1 1441.8L753.1 1449.8L761.1 1457.8L753.1 1465.8L745.1 1457.8L737.1 1465.8L729.1 1457.8L737.1 1449.8L729.1 1441.8Z" fill="#231F20" stroke="#231F20" stroke-width="4.0" stroke-miterlimit="10"/>
<path d="M704.2 1464.1L712.2 1472.1L720.2 1464.1L728.2 1472.1L720.2 1480.1L728.2 1488.1L720.2 1496.1L712.2 1488.1L704.2 1496.1L696.2 1488.1L704.2 1480.1L696.2 1472.1Z" fill="#231F20" stroke="#231F20" stroke-width="4.0" stroke-miterlimit="10"/>
<path d="M660.5 1485.4L668.5 1493.4L676.5 1485.4L684.5 1493.4L676.5 1501.4L684.5 1509.4L676.5 1517.4L668.5 1509.4L660.5 1517.4L652.5 1509.4L660.5 1501.4L652.5 1493.4Z" fill="#231F20" stroke="#231F20" stroke-width="4.0" stroke-miterlimit="10"/>
<path d="M594.6 1513.7L602.6 1521.7L610.6 1513.7L618.6 1521.7L610.6 1529.7L618.6 1537.7L610.6 1545.7L602.6 1537.7L594.6 1545.7L586.6 1537.7L594.6 1529.7L586.6 1521.7Z" fill="#231F20" stroke="#231F20" stroke-width="4.0" stroke-miterlimit="10"/>
<path d="M532.4 1544.3L540.4 1552.3L548.4 1544.3L556.4 1552.3L548.4 1560.3L556.4 1568.3L548.4 1576.3L540.4 1568.3L532.4 1576.3L524.4 1568.3L532.4 1560.3L524.4 1552.3Z" fill="#231F20" stroke="#231F20" stroke-width="4.0" stroke-miterlimit="10"/>
<path d="M490.5 1565.8L498.5 1573.8L506.5 1565.8L514.5 1573.8L506.5 1581.8L514.5 1589.8L506.5 1597.8L498.5 1589.8L490.5 1597.8L482.5 1589.8L490.5 1581.8L482.5 1573.8Z" fill="#231F20" stroke="#231F20" stroke-width="4.0" stroke-miterlimit="10"/>
</g>
<path d="M238.0 1651.6v15.7M425.0 1651.6v15.7M612.0 1651.6v15.7M799.0 1651.6v15.7M986.0 1651.6v15.7M1173.0 1651.6v15.7M189.6 1583.2h-15.7M189.6 1309.1h-15.7M189.6 1035.0h-15.7M189.6 760.8h-15.7M189.6 486.7h-15.7M189.6 212.6h-15.7" stroke="#231F20" stroke-width="4.2" fill="none"/>
<rect x="189.6" y="144.5" width="1008.5" height="1507.1" fill="none" stroke="#231F20" stroke-width="5.0"/>
<g font-size="47.5" fill="#231F20">
<text x="238.0" y="1717.5" text-anchor="middle">0</text>
<text x="425.0" y="1717.5" text-anchor="middle">1</text>
<text x="612.0" y="1717.5" text-anchor="middle">2</text>
<text x="799.0" y="1717.5" text-anchor="middle">3</text>
<text x="986.0" y="1717.5" text-anchor="middle">4</text>
<text x="1173.0" y="1717.5" text-anchor="middle">5</text>
<text x="159.3" y="1601.2" text-anchor="end">0</text>
<text x="159.3" y="1327.1" text-anchor="end">2</text>
<text x="159.3" y="1053.0" text-anchor="end">4</text>
<text x="159.3" y="778.8" text-anchor="end">6</text>
<text x="159.3" y="504.7" text-anchor="end">8</text>
<text x="159.3" y="230.6" text-anchor="end">10</text>
<text x="693.8" y="1781" text-anchor="middle">U [m/s]</text>
<text transform="translate(71.9 898.0) rotate(-90)" text-anchor="middle">Y [mm]</text>
</g>
<rect x="676.7" y="168.5" width="497.8" height="569.4" rx="9" ry="9" fill="#fff" fill-opacity="0.8" stroke="#D9DBDC" stroke-width="5"/>
<g font-size="47.5" fill="#231F20">
<path d="M695.2 206.4H791.2" stroke="#ED1C24" stroke-width="7.0" stroke-linecap="square"/>
<rect x="727.2" y="190.4" width="32.0" height="32.0" fill="#ED1C24" stroke="#ED1C24" stroke-width="4.0"/>
<text x="827.5" y="223.0">10 mm Suzen</text>
<path d="M695.2 275.9H791.2" stroke="#3953A4" stroke-width="7.8" stroke-linecap="square"/>
<path d="M743.2 259.9L727.2 291.9L759.2 291.9Z" fill="#3953A4" stroke="#3953A4" stroke-width="4.0" stroke-miterlimit="10"/>
<text x="827.5" y="292.5">15 mm Suzen</text>
<path d="M695.2 345.4H791.2" stroke="#FAA61A" stroke-width="7.0" stroke-linecap="butt" stroke-dasharray="24.70 9.80"/>
<circle cx="743.2" cy="345.4" r="15.6" fill="#FAA61A"/>
<text x="827.5" y="362.0">40 mm Suzen</text>
<path d="M695.2 414.9H791.2" stroke="#4DB848" stroke-width="7.8" stroke-linecap="butt" stroke-dasharray="42.40 9.60 7.50 9.60"/>
<path d="M743.2 395.1L755.1 414.9L743.2 434.7L731.3 414.9Z" fill="#4DB848" stroke="#4DB848" stroke-width="4.0" stroke-miterlimit="10"/>
<text x="827.5" y="431.5">75 mm Suzen</text>
<path d="M695.2 484.4H791.2" stroke="#231F20" stroke-width="6.9" stroke-linecap="butt" stroke-dasharray="7.90 9.30"/>
<rect x="727.2" y="468.4" width="32.0" height="32.0" fill="#231F20" stroke="#231F20" stroke-width="4.0"/>
<text x="827.5" y="501.0">10mm Forte</text>
<path d="M695.2 553.9H791.2" stroke="#231F20" stroke-width="6.9" stroke-linecap="butt" stroke-dasharray="7.90 9.30"/>
<path d="M743.2 537.9L727.2 569.9L759.2 569.9Z" fill="#231F20" stroke="#231F20" stroke-width="4.0" stroke-miterlimit="10"/>
<text x="827.5" y="570.5">30mm Forte</text>
<path d="M695.2 623.4H791.2" stroke="#231F20" stroke-width="6.9" stroke-linecap="butt" stroke-dasharray="7.90 9.30"/>
<circle cx="743.2" cy="623.4" r="18.0" fill="#231F20"/>
<text x="827.5" y="640.0">40mm Forte</text>
<path d="M695.2 692.9H791.2" stroke="#231F20" stroke-width="6.9" stroke-linecap="butt" stroke-dasharray="7.90 9.30"/>
<path d="M735.2 676.9L743.2 684.9L751.2 676.9L759.2 684.9L751.2 692.9L759.2 700.9L751.2 708.9L743.2 700.9L735.2 708.9L727.2 700.9L735.2 692.9L727.2 684.9Z" fill="#231F20" stroke="#231F20" stroke-width="4.0" stroke-miterlimit="10"/>
<text x="827.5" y="709.5">60mm Forte</text>
</g>
<clipPath id="clipR"><rect x="1404.6" y="144.5" width="1007.8" height="1507.1"/></clipPath>
<g clip-path="url(#clipR)">
<path d="M1520.2 1583.2L1638.8 1582.4L1732.4 1581.0L1804.0 1580.1L1856.9 1579.1L1913.4 1577.2L1937.4 1576.0L1957.4 1574.8L1975.1 1573.7L1990.7 1572.5L2004.7 1571.3L2017.4 1570.2L2029.1 1569.0L2039.8 1567.9L2050.3 1566.6L2061.1 1565.2L2073.1 1563.5L2088.0 1561.6L2105.6 1559.4L2120.6 1556.9L2132.4 1554.0L2136.3 1550.6L2134.6 1546.7L2113.4 1542.3L2089.1 1537.1L2053.2 1531.2L2002.9 1524.4L1949.2 1516.5L1887.4 1507.5L1828.1 1497.0L1771.2 1485.0L1729.2 1471.2L1696.6 1455.2L1679.5 1436.9L1671.4 1415.7L1668.6 1391.4L1667.7 1363.3L1667.7 1330.9L1667.7 1293.7L1667.7 1250.7L1667.8 1201.3L1668.1 1144.3L1668.5 1078.7L1668.7 1003.1L1669.0 916.0L1669.2 815.7L1669.5 700.1L1669.8 566.9L1670.2 413.6L1670.9 236.9" fill="none" stroke="#ED1C24" stroke-width="7.0" stroke-linejoin="round" stroke-linecap="square"/>
<rect x="1504.2" y="1567.2" width="32.0" height="32.0" fill="#ED1C24" stroke="#ED1C24" stroke-width="4.0"/>
<rect x="1622.8" y="1566.4" width="32.0" height="32.0" fill="#ED1C24" stroke="#ED1C24" stroke-width="4.0"/>
<rect x="1716.4" y="1565.0" width="32.0" height="32.0" fill="#ED1C24" stroke="#ED1C24" stroke-width="4.0"/>
<rect x="1788.0" y="1564.1" width="32.0" height="32.0" fill="#ED1C24" stroke="#ED1C24" stroke-width="4.0"/>
<rect x="1840.9" y="1563.1" width="32.0" height="32.0" fill="#ED1C24" stroke="#ED1C24" stroke-width="4.0"/>
<rect x="1897.4" y="1561.2" width="32.0" height="32.0" fill="#ED1C24" stroke="#ED1C24" stroke-width="4.0"/>
<rect x="1921.4" y="1560.0" width="32.0" height="32.0" fill="#ED1C24" stroke="#ED1C24" stroke-width="4.0"/>
<rect x="1941.4" y="1558.8" width="32.0" height="32.0" fill="#ED1C24" stroke="#ED1C24" stroke-width="4.0"/>
<rect x="1959.1" y="1557.7" width="32.0" height="32.0" fill="#ED1C24" stroke="#ED1C24" stroke-width="4.0"/>
<rect x="1974.7" y="1556.5" width="32.0" height="32.0" fill="#ED1C24" stroke="#ED1C24" stroke-width="4.0"/>
<rect x="1988.7" y="1555.3" width="32.0" height="32.0" fill="#ED1C24" stroke="#ED1C24" stroke-width="4.0"/>
<rect x="2001.4" y="1554.2" width="32.0" height="32.0" fill="#ED1C24" stroke="#ED1C24" stroke-width="4.0"/>
<rect x="2013.1" y="1553.0" width="32.0" height="32.0" fill="#ED1C24" stroke="#ED1C24" stroke-width="4.0"/>
<rect x="2023.8" y="1551.9" width="32.0" height="32.0" fill="#ED1C24" stroke="#ED1C24" stroke-width="4.0"/>
<rect x="2034.3" y="1550.6" width="32.0" height="32.0" fill="#ED1C24" stroke="#ED1C24" stroke-width="4.0"/>
<rect x="2045.1" y="1549.2" width="32.0" height="32.0" fill="#ED1C24" stroke="#ED1C24" stroke-width="4.0"/>
<rect x="2057.1" y="1547.5" width="32.0" height="32.0" fill="#ED1C24" stroke="#ED1C24" stroke-width="4.0"/>
<rect x="2072.0" y="1545.6" width="32.0" height="32.0" fill="#ED1C24" stroke="#ED1C24" stroke-width="4.0"/>
<rect x="2089.6" y="1543.4" width="32.0" height="32.0" fill="#ED1C24" stroke="#ED1C24" stroke-width="4.0"/>
<rect x="2104.6" y="1540.9" width="32.0" height="32.0" fill="#ED1C24" stroke="#ED1C24" stroke-width="4.0"/>
<rect x="2116.4" y="1538.0" width="32.0" height="32.0" fill="#ED1C24" stroke="#ED1C24" stroke-width="4.0"/>
<rect x="2120.3" y="1534.6" width="32.0" height="32.0" fill="#ED1C24" stroke="#ED1C24" stroke-width="4.0"/>
<rect x="2118.6" y="1530.7" width="32.0" height="32.0" fill="#ED1C24" stroke="#ED1C24" stroke-width="4.0"/>
<rect x="2097.4" y="1526.3" width="32.0" height="32.0" fill="#ED1C24" stroke="#ED1C24" stroke-width="4.0"/>
<rect x="2073.1" y="1521.1" width="32.0" height="32.0" fill="#ED1C24" stroke="#ED1C24" stroke-width="4.0"/>
<rect x="2037.2" y="1515.2" width="32.0" height="32.0" fill="#ED1C24" stroke="#ED1C24" stroke-width="4.0"/>
<rect x="1986.9" y="1508.4" width="32.0" height="32.0" fill="#ED1C24" stroke="#ED1C24" stroke-width="4.0"/>
<rect x="1933.2" y="1500.5" width="32.0" height="32.0" fill="#ED1C24" stroke="#ED1C24" stroke-width="4.0"/>
<rect x="1871.4" y="1491.5" width="32.0" height="32.0" fill="#ED1C24" stroke="#ED1C24" stroke-width="4.0"/>
<rect x="1812.1" y="1481.0" width="32.0" height="32.0" fill="#ED1C24" stroke="#ED1C24" stroke-width="4.0"/>
<rect x="1755.2" y="1469.0" width="32.0" height="32.0" fill="#ED1C24" stroke="#ED1C24" stroke-width="4.0"/>
<rect x="1713.2" y="1455.2" width="32.0" height="32.0" fill="#ED1C24" stroke="#ED1C24" stroke-width="4.0"/>
<rect x="1680.6" y="1439.2" width="32.0" height="32.0" fill="#ED1C24" stroke="#ED1C24" stroke-width="4.0"/>
<rect x="1663.5" y="1420.9" width="32.0" height="32.0" fill="#ED1C24" stroke="#ED1C24" stroke-width="4.0"/>
<rect x="1655.4" y="1399.7" width="32.0" height="32.0" fill="#ED1C24" stroke="#ED1C24" stroke-width="4.0"/>
<rect x="1652.6" y="1375.4" width="32.0" height="32.0" fill="#ED1C24" stroke="#ED1C24" stroke-width="4.0"/>
<rect x="1651.7" y="1347.3" width="32.0" height="32.0" fill="#ED1C24" stroke="#ED1C24" stroke-width="4.0"/>
<rect x="1651.7" y="1314.9" width="32.0" height="32.0" fill="#ED1C24" stroke="#ED1C24" stroke-width="4.0"/>
<rect x="1651.7" y="1277.7" width="32.0" height="32.0" fill="#ED1C24" stroke="#ED1C24" stroke-width="4.0"/>
<rect x="1651.7" y="1234.7" width="32.0" height="32.0" fill="#ED1C24" stroke="#ED1C24" stroke-width="4.0"/>
<rect x="1651.8" y="1185.3" width="32.0" height="32.0" fill="#ED1C24" stroke="#ED1C24" stroke-width="4.0"/>
<rect x="1652.1" y="1128.3" width="32.0" height="32.0" fill="#ED1C24" stroke="#ED1C24" stroke-width="4.0"/>
<rect x="1652.5" y="1062.7" width="32.0" height="32.0" fill="#ED1C24" stroke="#ED1C24" stroke-width="4.0"/>
<rect x="1652.7" y="987.1" width="32.0" height="32.0" fill="#ED1C24" stroke="#ED1C24" stroke-width="4.0"/>
<rect x="1653.0" y="900.0" width="32.0" height="32.0" fill="#ED1C24" stroke="#ED1C24" stroke-width="4.0"/>
<rect x="1653.2" y="799.7" width="32.0" height="32.0" fill="#ED1C24" stroke="#ED1C24" stroke-width="4.0"/>
<rect x="1653.5" y="684.1" width="32.0" height="32.0" fill="#ED1C24" stroke="#ED1C24" stroke-width="4.0"/>
<rect x="1653.8" y="550.9" width="32.0" height="32.0" fill="#ED1C24" stroke="#ED1C24" stroke-width="4.0"/>
<rect x="1654.2" y="397.6" width="32.0" height="32.0" fill="#ED1C24" stroke="#ED1C24" stroke-width="4.0"/>
<rect x="1654.9" y="220.9" width="32.0" height="32.0" fill="#ED1C24" stroke="#ED1C24" stroke-width="4.0"/>
<path d="M1453.5 1583.2L1459.0 1581.8L1463.6 1580.7L1468.2 1579.5L1472.8 1578.3L1477.3 1577.2L1481.9 1576.0L1486.4 1574.8L1490.8 1573.7L1495.3 1572.5L1499.7 1571.3L1504.0 1570.2L1508.4 1569.0L1512.7 1567.9L1517.3 1566.6L1522.5 1565.2L1528.5 1563.5L1535.4 1561.6L1543.3 1559.4L1552.2 1556.9L1562.4 1554.0L1573.9 1550.6L1586.9 1546.7L1601.4 1542.3L1617.5 1537.1L1635.7 1531.2L1657.2 1524.4L1681.9 1516.5L1706.7 1507.5L1729.7 1497.0L1753.4 1485.0L1780.6 1471.2L1804.6 1455.2L1819.1 1436.9L1823.0 1415.7L1817.2 1391.4L1800.8 1363.3L1769.9 1330.9L1735.3 1293.7L1710.6 1250.7L1694.2 1201.3L1680.6 1144.3L1673.8 1078.7L1672.3 1003.1L1673.9 916.0L1676.1 815.7L1676.8 700.1L1676.1 566.9L1675.4 413.6L1675.0 236.9" fill="none" stroke="#3953A4" stroke-width="7.8" stroke-linejoin="round" stroke-linecap="square"/>
<path d="M1453.5 1567.2L1437.5 1599.2L1469.5 1599.2Z" fill="#3953A4" stroke="#3953A4" stroke-width="4.0" stroke-miterlimit="10"/>
<path d="M1459.0 1565.8L1443.0 1597.8L1475.0 1597.8Z" fill="#3953A4" stroke="#3953A4" stroke-width="4.0" stroke-miterlimit="10"/>
<path d="M1463.6 1564.7L1447.6 1596.7L1479.6 1596.7Z" fill="#3953A4" stroke="#3953A4" stroke-width="4.0" stroke-miterlimit="10"/>
<path d="M1468.2 1563.5L1452.2 1595.5L1484.2 1595.5Z" fill="#3953A4" stroke="#3953A4" stroke-width="4.0" stroke-miterlimit="10"/>
<path d="M1472.8 1562.3L1456.8 1594.3L1488.8 1594.3Z" fill="#3953A4" stroke="#3953A4" stroke-width="4.0" stroke-miterlimit="10"/>
<path d="M1477.3 1561.2L1461.3 1593.2L1493.3 1593.2Z" fill="#3953A4" stroke="#3953A4" stroke-width="4.0" stroke-miterlimit="10"/>
<path d="M1481.9 1560.0L1465.9 1592.0L1497.9 1592.0Z" fill="#3953A4" stroke="#3953A4" stroke-width="4.0" stroke-miterlimit="10"/>
<path d="M1486.4 1558.8L1470.4 1590.8L1502.4 1590.8Z" fill="#3953A4" stroke="#3953A4" stroke-width="4.0" stroke-miterlimit="10"/>
<path d="M1490.8 1557.7L1474.8 1589.7L1506.8 1589.7Z" fill="#3953A4" stroke="#3953A4" stroke-width="4.0" stroke-miterlimit="10"/>
<path d="M1495.3 1556.5L1479.3 1588.5L1511.3 1588.5Z" fill="#3953A4" stroke="#3953A4" stroke-width="4.0" stroke-miterlimit="10"/>
<path d="M1499.7 1555.3L1483.7 1587.3L1515.7 1587.3Z" fill="#3953A4" stroke="#3953A4" stroke-width="4.0" stroke-miterlimit="10"/>
<path d="M1504.0 1554.2L1488.0 1586.2L1520.0 1586.2Z" fill="#3953A4" stroke="#3953A4" stroke-width="4.0" stroke-miterlimit="10"/>
<path d="M1508.4 1553.0L1492.4 1585.0L1524.4 1585.0Z" fill="#3953A4" stroke="#3953A4" stroke-width="4.0" stroke-miterlimit="10"/>
<path d="M1512.7 1551.9L1496.7 1583.9L1528.7 1583.9Z" fill="#3953A4" stroke="#3953A4" stroke-width="4.0" stroke-miterlimit="10"/>
<path d="M1517.3 1550.6L1501.3 1582.6L1533.3 1582.6Z" fill="#3953A4" stroke="#3953A4" stroke-width="4.0" stroke-miterlimit="10"/>
<path d="M1522.5 1549.2L1506.5 1581.2L1538.5 1581.2Z" fill="#3953A4" stroke="#3953A4" stroke-width="4.0" stroke-miterlimit="10"/>
<path d="M1528.5 1547.5L1512.5 1579.5L1544.5 1579.5Z" fill="#3953A4" stroke="#3953A4" stroke-width="4.0" stroke-miterlimit="10"/>
<path d="M1535.4 1545.6L1519.4 1577.6L1551.4 1577.6Z" fill="#3953A4" stroke="#3953A4" stroke-width="4.0" stroke-miterlimit="10"/>
<path d="M1543.3 1543.4L1527.3 1575.4L1559.3 1575.4Z" fill="#3953A4" stroke="#3953A4" stroke-width="4.0" stroke-miterlimit="10"/>
<path d="M1552.2 1540.9L1536.2 1572.9L1568.2 1572.9Z" fill="#3953A4" stroke="#3953A4" stroke-width="4.0" stroke-miterlimit="10"/>
<path d="M1562.4 1538.0L1546.4 1570.0L1578.4 1570.0Z" fill="#3953A4" stroke="#3953A4" stroke-width="4.0" stroke-miterlimit="10"/>
<path d="M1573.9 1534.6L1557.9 1566.6L1589.9 1566.6Z" fill="#3953A4" stroke="#3953A4" stroke-width="4.0" stroke-miterlimit="10"/>
<path d="M1586.9 1530.7L1570.9 1562.7L1602.9 1562.7Z" fill="#3953A4" stroke="#3953A4" stroke-width="4.0" stroke-miterlimit="10"/>
<path d="M1601.4 1526.3L1585.4 1558.3L1617.4 1558.3Z" fill="#3953A4" stroke="#3953A4" stroke-width="4.0" stroke-miterlimit="10"/>
<path d="M1617.5 1521.1L1601.5 1553.1L1633.5 1553.1Z" fill="#3953A4" stroke="#3953A4" stroke-width="4.0" stroke-miterlimit="10"/>
<path d="M1635.7 1515.2L1619.7 1547.2L1651.7 1547.2Z" fill="#3953A4" stroke="#3953A4" stroke-width="4.0" stroke-miterlimit="10"/>
<path d="M1657.2 1508.4L1641.2 1540.4L1673.2 1540.4Z" fill="#3953A4" stroke="#3953A4" stroke-width="4.0" stroke-miterlimit="10"/>
<path d="M1681.9 1500.5L1665.9 1532.5L1697.9 1532.5Z" fill="#3953A4" stroke="#3953A4" stroke-width="4.0" stroke-miterlimit="10"/>
<path d="M1706.7 1491.5L1690.7 1523.5L1722.7 1523.5Z" fill="#3953A4" stroke="#3953A4" stroke-width="4.0" stroke-miterlimit="10"/>
<path d="M1729.7 1481.0L1713.7 1513.0L1745.7 1513.0Z" fill="#3953A4" stroke="#3953A4" stroke-width="4.0" stroke-miterlimit="10"/>
<path d="M1753.4 1469.0L1737.4 1501.0L1769.4 1501.0Z" fill="#3953A4" stroke="#3953A4" stroke-width="4.0" stroke-miterlimit="10"/>
<path d="M1780.6 1455.2L1764.6 1487.2L1796.6 1487.2Z" fill="#3953A4" stroke="#3953A4" stroke-width="4.0" stroke-miterlimit="10"/>
<path d="M1804.6 1439.2L1788.6 1471.2L1820.6 1471.2Z" fill="#3953A4" stroke="#3953A4" stroke-width="4.0" stroke-miterlimit="10"/>
<path d="M1819.1 1420.9L1803.1 1452.9L1835.1 1452.9Z" fill="#3953A4" stroke="#3953A4" stroke-width="4.0" stroke-miterlimit="10"/>
<path d="M1823.0 1399.7L1807.0 1431.7L1839.0 1431.7Z" fill="#3953A4" stroke="#3953A4" stroke-width="4.0" stroke-miterlimit="10"/>
<path d="M1817.2 1375.4L1801.2 1407.4L1833.2 1407.4Z" fill="#3953A4" stroke="#3953A4" stroke-width="4.0" stroke-miterlimit="10"/>
<path d="M1800.8 1347.3L1784.8 1379.3L1816.8 1379.3Z" fill="#3953A4" stroke="#3953A4" stroke-width="4.0" stroke-miterlimit="10"/>
<path d="M1769.9 1314.9L1753.9 1346.9L1785.9 1346.9Z" fill="#3953A4" stroke="#3953A4" stroke-width="4.0" stroke-miterlimit="10"/>
<path d="M1735.3 1277.7L1719.3 1309.7L1751.3 1309.7Z" fill="#3953A4" stroke="#3953A4" stroke-width="4.0" stroke-miterlimit="10"/>
<path d="M1710.6 1234.7L1694.6 1266.7L1726.6 1266.7Z" fill="#3953A4" stroke="#3953A4" stroke-width="4.0" stroke-miterlimit="10"/>
<path d="M1694.2 1185.3L1678.2 1217.3L1710.2 1217.3Z" fill="#3953A4" stroke="#3953A4" stroke-width="4.0" stroke-miterlimit="10"/>
<path d="M1680.6 1128.3L1664.6 1160.3L1696.6 1160.3Z" fill="#3953A4" stroke="#3953A4" stroke-width="4.0" stroke-miterlimit="10"/>
<path d="M1673.8 1062.7L1657.8 1094.7L1689.8 1094.7Z" fill="#3953A4" stroke="#3953A4" stroke-width="4.0" stroke-miterlimit="10"/>
<path d="M1672.3 987.1L1656.3 1019.1L1688.3 1019.1Z" fill="#3953A4" stroke="#3953A4" stroke-width="4.0" stroke-miterlimit="10"/>
<path d="M1673.9 900.0L1657.9 932.0L1689.9 932.0Z" fill="#3953A4" stroke="#3953A4" stroke-width="4.0" stroke-miterlimit="10"/>
<path d="M1676.1 799.7L1660.1 831.7L1692.1 831.7Z" fill="#3953A4" stroke="#3953A4" stroke-width="4.0" stroke-miterlimit="10"/>
<path d="M1676.8 684.1L1660.8 716.1L1692.8 716.1Z" fill="#3953A4" stroke="#3953A4" stroke-width="4.0" stroke-miterlimit="10"/>
<path d="M1676.1 550.9L1660.1 582.9L1692.1 582.9Z" fill="#3953A4" stroke="#3953A4" stroke-width="4.0" stroke-miterlimit="10"/>
<path d="M1675.4 397.6L1659.4 429.6L1691.4 429.6Z" fill="#3953A4" stroke="#3953A4" stroke-width="4.0" stroke-miterlimit="10"/>
<path d="M1675.0 220.9L1659.0 252.9L1691.0 252.9Z" fill="#3953A4" stroke="#3953A4" stroke-width="4.0" stroke-miterlimit="10"/>
<path d="M1453.5 1583.2L1457.4 1581.8L1460.8 1580.7L1464.1 1579.5L1467.5 1578.3L1470.8 1577.2L1474.1 1576.0L1477.4 1574.8L1480.7 1573.7L1484.0 1572.5L1487.2 1571.3L1490.5 1570.2L1493.7 1569.0L1496.9 1567.9L1500.4 1566.6L1504.4 1565.2L1509.0 1563.5L1514.3 1561.6L1520.4 1559.4L1527.3 1556.9L1535.1 1554.0L1543.7 1550.6L1553.3 1546.7L1563.9 1542.3L1575.8 1537.1L1588.2 1531.2L1600.5 1524.4L1612.2 1516.5L1625.8 1507.5L1644.3 1497.0L1669.3 1485.0L1695.1 1471.2L1720.9 1455.2L1746.5 1436.9L1769.1 1415.7L1783.2 1391.4L1787.8 1363.3L1782.9 1330.9L1765.0 1293.7L1737.9 1250.7L1716.0 1201.3L1696.2 1144.3L1685.5 1078.7L1678.4 1003.1L1677.2 916.0L1678.4 815.7L1679.0 700.1L1679.0 566.9L1678.7 413.6L1677.7 236.9" fill="none" stroke="#FAA61A" stroke-width="7.0" stroke-linejoin="round" stroke-linecap="butt" stroke-dasharray="24.70 9.80"/>
<circle cx="1453.5" cy="1583.2" r="15.6" fill="#FAA61A"/>
<circle cx="1457.4" cy="1581.8" r="15.6" fill="#FAA61A"/>
<circle cx="1460.8" cy="1580.7" r="15.6" fill="#FAA61A"/>
<circle cx="1464.1" cy="1579.5" r="15.6" fill="#FAA61A"/>
<circle cx="1467.5" cy="1578.3" r="15.6" fill="#FAA61A"/>
<circle cx="1470.8" cy="1577.2" r="15.6" fill="#FAA61A"/>
<circle cx="1474.1" cy="1576.0" r="15.6" fill="#FAA61A"/>
<circle cx="1477.4" cy="1574.8" r="15.6" fill="#FAA61A"/>
<circle cx="1480.7" cy="1573.7" r="15.6" fill="#FAA61A"/>
<circle cx="1484.0" cy="1572.5" r="15.6" fill="#FAA61A"/>
<circle cx="1487.2" cy="1571.3" r="15.6" fill="#FAA61A"/>
<circle cx="1490.5" cy="1570.2" r="15.6" fill="#FAA61A"/>
<circle cx="1493.7" cy="1569.0" r="15.6" fill="#FAA61A"/>
<circle cx="1496.9" cy="1567.9" r="15.6" fill="#FAA61A"/>
<circle cx="1500.4" cy="1566.6" r="15.6" fill="#FAA61A"/>
<circle cx="1504.4" cy="1565.2" r="15.6" fill="#FAA61A"/>
<circle cx="1509.0" cy="1563.5" r="15.6" fill="#FAA61A"/>
<circle cx="1514.3" cy="1561.6" r="15.6" fill="#FAA61A"/>
<circle cx="1520.4" cy="1559.4" r="15.6" fill="#FAA61A"/>
<circle cx="1527.3" cy="1556.9" r="15.6" fill="#FAA61A"/>
<circle cx="1535.1" cy="1554.0" r="15.6" fill="#FAA61A"/>
<circle cx="1543.7" cy="1550.6" r="15.6" fill="#FAA61A"/>
<circle cx="1553.3" cy="1546.7" r="15.6" fill="#FAA61A"/>
<circle cx="1563.9" cy="1542.3" r="15.6" fill="#FAA61A"/>
<circle cx="1575.8" cy="1537.1" r="15.6" fill="#FAA61A"/>
<circle cx="1588.2" cy="1531.2" r="15.6" fill="#FAA61A"/>
<circle cx="1600.5" cy="1524.4" r="15.6" fill="#FAA61A"/>
<circle cx="1612.2" cy="1516.5" r="15.6" fill="#FAA61A"/>
<circle cx="1625.8" cy="1507.5" r="15.6" fill="#FAA61A"/>
<circle cx="1644.3" cy="1497.0" r="15.6" fill="#FAA61A"/>
<circle cx="1669.3" cy="1485.0" r="15.6" fill="#FAA61A"/>
<circle cx="1695.1" cy="1471.2" r="15.6" fill="#FAA61A"/>
<circle cx="1720.9" cy="1455.2" r="15.6" fill="#FAA61A"/>
<circle cx="1746.5" cy="1436.9" r="15.6" fill="#FAA61A"/>
<circle cx="1769.1" cy="1415.7" r="15.6" fill="#FAA61A"/>
<circle cx="1783.2" cy="1391.4" r="15.6" fill="#FAA61A"/>
<circle cx="1787.8" cy="1363.3" r="15.6" fill="#FAA61A"/>
<circle cx="1782.9" cy="1330.9" r="15.6" fill="#FAA61A"/>
<circle cx="1765.0" cy="1293.7" r="15.6" fill="#FAA61A"/>
<circle cx="1737.9" cy="1250.7" r="15.6" fill="#FAA61A"/>
<circle cx="1716.0" cy="1201.3" r="15.6" fill="#FAA61A"/>
<circle cx="1696.2" cy="1144.3" r="15.6" fill="#FAA61A"/>
<circle cx="1685.5" cy="1078.7" r="15.6" fill="#FAA61A"/>
<circle cx="1678.4" cy="1003.1" r="15.6" fill="#FAA61A"/>
<circle cx="1677.2" cy="916.0" r="15.6" fill="#FAA61A"/>
<circle cx="1678.4" cy="815.7" r="15.6" fill="#FAA61A"/>
<circle cx="1679.0" cy="700.1" r="15.6" fill="#FAA61A"/>
<circle cx="1679.0" cy="566.9" r="15.6" fill="#FAA61A"/>
<circle cx="1678.7" cy="413.6" r="15.6" fill="#FAA61A"/>
<circle cx="1677.7" cy="236.9" r="15.6" fill="#FAA61A"/>
<path d="M1453.5 1583.2L1455.6 1581.8L1457.4 1580.7L1459.3 1579.5L1461.1 1578.3L1462.9 1577.2L1464.7 1576.0L1466.5 1574.8L1468.3 1573.7L1470.1 1572.5L1471.9 1571.3L1473.8 1570.2L1475.6 1569.0L1477.4 1567.9L1479.3 1566.6L1481.5 1565.2L1484.1 1563.5L1487.1 1561.6L1490.5 1559.4L1494.4 1556.9L1498.9 1554.0L1504.1 1550.6L1510.1 1546.7L1517.0 1542.3L1524.9 1537.1L1534.0 1531.2L1544.6 1524.4L1556.8 1516.5L1570.8 1507.5L1586.7 1497.0L1604.5 1485.0L1623.6 1471.2L1644.2 1455.2L1667.2 1436.9L1687.3 1415.7L1710.2 1391.4L1728.1 1363.3L1743.4 1330.9L1749.8 1293.7L1747.0 1250.7L1739.6 1201.3L1723.3 1144.3L1706.6 1078.7L1693.4 1003.1L1685.6 916.0L1682.4 815.7L1680.6 700.1L1680.2 566.9L1679.5 413.6L1678.8 236.9" fill="none" stroke="#4DB848" stroke-width="7.8" stroke-linejoin="round" stroke-linecap="butt" stroke-dasharray="42.40 9.60 7.50 9.60"/>
<path d="M1453.5 1563.4L1465.4 1583.2L1453.5 1603.0L1441.6 1583.2Z" fill="#4DB848" stroke="#4DB848" stroke-width="4.0" stroke-miterlimit="10"/>
<path d="M1455.6 1562.0L1467.5 1581.8L1455.6 1601.6L1443.7 1581.8Z" fill="#4DB848" stroke="#4DB848" stroke-width="4.0" stroke-miterlimit="10"/>
<path d="M1457.4 1560.9L1469.3 1580.7L1457.4 1600.5L1445.6 1580.7Z" fill="#4DB848" stroke="#4DB848" stroke-width="4.0" stroke-miterlimit="10"/>
<path d="M1459.3 1559.7L1471.1 1579.5L1459.3 1599.3L1447.4 1579.5Z" fill="#4DB848" stroke="#4DB848" stroke-width="4.0" stroke-miterlimit="10"/>
<path d="M1461.1 1558.5L1473.0 1578.3L1461.1 1598.1L1449.2 1578.3Z" fill="#4DB848" stroke="#4DB848" stroke-width="4.0" stroke-miterlimit="10"/>
<path d="M1462.9 1557.4L1474.8 1577.2L1462.9 1597.0L1451.0 1577.2Z" fill="#4DB848" stroke="#4DB848" stroke-width="4.0" stroke-miterlimit="10"/>
<path d="M1464.7 1556.2L1476.6 1576.0L1464.7 1595.8L1452.8 1576.0Z" fill="#4DB848" stroke="#4DB848" stroke-width="4.0" stroke-miterlimit="10"/>
<path d="M1466.5 1555.0L1478.4 1574.8L1466.5 1594.6L1454.6 1574.8Z" fill="#4DB848" stroke="#4DB848" stroke-width="4.0" stroke-miterlimit="10"/>
<path d="M1468.3 1553.9L1480.2 1573.7L1468.3 1593.5L1456.4 1573.7Z" fill="#4DB848" stroke="#4DB848" stroke-width="4.0" stroke-miterlimit="10"/>
<path d="M1470.1 1552.7L1482.0 1572.5L1470.1 1592.3L1458.3 1572.5Z" fill="#4DB848" stroke="#4DB848" stroke-width="4.0" stroke-miterlimit="10"/>
<path d="M1471.9 1551.6L1483.8 1571.3L1471.9 1591.1L1460.1 1571.3Z" fill="#4DB848" stroke="#4DB848" stroke-width="4.0" stroke-miterlimit="10"/>
<path d="M1473.8 1550.4L1485.6 1570.2L1473.8 1590.0L1461.9 1570.2Z" fill="#4DB848" stroke="#4DB848" stroke-width="4.0" stroke-miterlimit="10"/>
<path d="M1475.6 1549.2L1487.4 1569.0L1475.6 1588.8L1463.7 1569.0Z" fill="#4DB848" stroke="#4DB848" stroke-width="4.0" stroke-miterlimit="10"/>
<path d="M1477.4 1548.1L1489.3 1567.9L1477.4 1587.7L1465.5 1567.9Z" fill="#4DB848" stroke="#4DB848" stroke-width="4.0" stroke-miterlimit="10"/>
<path d="M1479.3 1546.8L1491.2 1566.6L1479.3 1586.4L1467.4 1566.6Z" fill="#4DB848" stroke="#4DB848" stroke-width="4.0" stroke-miterlimit="10"/>
<path d="M1481.5 1545.4L1493.4 1565.2L1481.5 1585.0L1469.7 1565.2Z" fill="#4DB848" stroke="#4DB848" stroke-width="4.0" stroke-miterlimit="10"/>
<path d="M1484.1 1543.7L1496.0 1563.5L1484.1 1583.3L1472.2 1563.5Z" fill="#4DB848" stroke="#4DB848" stroke-width="4.0" stroke-miterlimit="10"/>
<path d="M1487.1 1541.8L1498.9 1561.6L1487.1 1581.4L1475.2 1561.6Z" fill="#4DB848" stroke="#4DB848" stroke-width="4.0" stroke-miterlimit="10"/>
<path d="M1490.5 1539.6L1502.4 1559.4L1490.5 1579.2L1478.6 1559.4Z" fill="#4DB848" stroke="#4DB848" stroke-width="4.0" stroke-miterlimit="10"/>
<path d="M1494.4 1537.1L1506.3 1556.9L1494.4 1576.7L1482.5 1556.9Z" fill="#4DB848" stroke="#4DB848" stroke-width="4.0" stroke-miterlimit="10"/>
<path d="M1498.9 1534.2L1510.8 1554.0L1498.9 1573.8L1487.0 1554.0Z" fill="#4DB848" stroke="#4DB848" stroke-width="4.0" stroke-miterlimit="10"/>
<path d="M1504.1 1530.8L1516.0 1550.6L1504.1 1570.4L1492.2 1550.6Z" fill="#4DB848" stroke="#4DB848" stroke-width="4.0" stroke-miterlimit="10"/>
<path d="M1510.1 1526.9L1522.0 1546.7L1510.1 1566.5L1498.2 1546.7Z" fill="#4DB848" stroke="#4DB848" stroke-width="4.0" stroke-miterlimit="10"/>
<path d="M1517.0 1522.5L1528.8 1542.3L1517.0 1562.1L1505.1 1542.3Z" fill="#4DB848" stroke="#4DB848" stroke-width="4.0" stroke-miterlimit="10"/>
<path d="M1524.9 1517.3L1536.8 1537.1L1524.9 1556.9L1513.0 1537.1Z" fill="#4DB848" stroke="#4DB848" stroke-width="4.0" stroke-miterlimit="10"/>
<path d="M1534.0 1511.4L1545.9 1531.2L1534.0 1551.0L1522.1 1531.2Z" fill="#4DB848" stroke="#4DB848" stroke-width="4.0" stroke-miterlimit="10"/>
<path d="M1544.6 1504.6L1556.4 1524.4L1544.6 1544.2L1532.7 1524.4Z" fill="#4DB848" stroke="#4DB848" stroke-width="4.0" stroke-miterlimit="10"/>
<path d="M1556.8 1496.7L1568.7 1516.5L1556.8 1536.3L1544.9 1516.5Z" fill="#4DB848" stroke="#4DB848" stroke-width="4.0" stroke-miterlimit="10"/>
<path d="M1570.8 1487.7L1582.7 1507.5L1570.8 1527.3L1558.9 1507.5Z" fill="#4DB848" stroke="#4DB848" stroke-width="4.0" stroke-miterlimit="10"/>
<path d="M1586.7 1477.2L1598.6 1497.0L1586.7 1516.8L1574.9 1497.0Z" fill="#4DB848" stroke="#4DB848" stroke-width="4.0" stroke-miterlimit="10"/>
<path d="M1604.5 1465.2L1616.3 1485.0L1604.5 1504.8L1592.6 1485.0Z" fill="#4DB848" stroke="#4DB848" stroke-width="4.0" stroke-miterlimit="10"/>
<path d="M1623.6 1451.4L1635.5 1471.2L1623.6 1491.0L1611.7 1471.2Z" fill="#4DB848" stroke="#4DB848" stroke-width="4.0" stroke-miterlimit="10"/>
<path d="M1644.2 1435.4L1656.1 1455.2L1644.2 1475.0L1632.3 1455.2Z" fill="#4DB848" stroke="#4DB848" stroke-width="4.0" stroke-miterlimit="10"/>
<path d="M1667.2 1417.1L1679.1 1436.9L1667.2 1456.7L1655.3 1436.9Z" fill="#4DB848" stroke="#4DB848" stroke-width="4.0" stroke-miterlimit="10"/>
<path d="M1687.3 1395.9L1699.2 1415.7L1687.3 1435.5L1675.5 1415.7Z" fill="#4DB848" stroke="#4DB848" stroke-width="4.0" stroke-miterlimit="10"/>
<path d="M1710.2 1371.6L1722.0 1391.4L1710.2 1411.2L1698.3 1391.4Z" fill="#4DB848" stroke="#4DB848" stroke-width="4.0" stroke-miterlimit="10"/>
<path d="M1728.1 1343.5L1739.9 1363.3L1728.1 1383.1L1716.2 1363.3Z" fill="#4DB848" stroke="#4DB848" stroke-width="4.0" stroke-miterlimit="10"/>
<path d="M1743.4 1311.1L1755.3 1330.9L1743.4 1350.7L1731.5 1330.9Z" fill="#4DB848" stroke="#4DB848" stroke-width="4.0" stroke-miterlimit="10"/>
<path d="M1749.8 1273.9L1761.7 1293.7L1749.8 1313.5L1737.9 1293.7Z" fill="#4DB848" stroke="#4DB848" stroke-width="4.0" stroke-miterlimit="10"/>
<path d="M1747.0 1230.9L1758.9 1250.7L1747.0 1270.5L1735.1 1250.7Z" fill="#4DB848" stroke="#4DB848" stroke-width="4.0" stroke-miterlimit="10"/>
<path d="M1739.6 1181.5L1751.5 1201.3L1739.6 1221.1L1727.7 1201.3Z" fill="#4DB848" stroke="#4DB848" stroke-width="4.0" stroke-miterlimit="10"/>
<path d="M1723.3 1124.5L1735.1 1144.3L1723.3 1164.1L1711.4 1144.3Z" fill="#4DB848" stroke="#4DB848" stroke-width="4.0" stroke-miterlimit="10"/>
<path d="M1706.6 1058.9L1718.5 1078.7L1706.6 1098.5L1694.7 1078.7Z" fill="#4DB848" stroke="#4DB848" stroke-width="4.0" stroke-miterlimit="10"/>
<path d="M1693.4 983.3L1705.3 1003.1L1693.4 1022.9L1681.5 1003.1Z" fill="#4DB848" stroke="#4DB848" stroke-width="4.0" stroke-miterlimit="10"/>
<path d="M1685.6 896.2L1697.4 916.0L1685.6 935.8L1673.7 916.0Z" fill="#4DB848" stroke="#4DB848" stroke-width="4.0" stroke-miterlimit="10"/>
<path d="M1682.4 795.9L1694.3 815.7L1682.4 835.5L1670.5 815.7Z" fill="#4DB848" stroke="#4DB848" stroke-width="4.0" stroke-miterlimit="10"/>
<path d="M1680.6 680.3L1692.5 700.1L1680.6 719.9L1668.7 700.1Z" fill="#4DB848" stroke="#4DB848" stroke-width="4.0" stroke-miterlimit="10"/>
<path d="M1680.2 547.1L1692.1 566.9L1680.2 586.7L1668.3 566.9Z" fill="#4DB848" stroke="#4DB848" stroke-width="4.0" stroke-miterlimit="10"/>
<path d="M1679.5 393.8L1691.4 413.6L1679.5 433.4L1667.6 413.6Z" fill="#4DB848" stroke="#4DB848" stroke-width="4.0" stroke-miterlimit="10"/>
<path d="M1678.8 217.1L1690.7 236.9L1678.8 256.7L1666.9 236.9Z" fill="#4DB848" stroke="#4DB848" stroke-width="4.0" stroke-miterlimit="10"/>
<path d="M1453.5 219.5L1453.5 349.7L1453.5 486.7L1455.8 623.8L1453.5 760.8L1453.5 897.9L1498.0 965.1L1565.4 1035.0L1651.2 1100.7L1701.4 1169.3L1769.0 1243.3L1870.9 1308.1L1901.0 1341.3L1946.6 1368.6L2008.8 1392.8L2052.4 1422.6L2104.4 1446.7L2177.8 1479.0L2272.1 1506.3L2318.6 1528.4L2366.1 1556.5L2331.7 1576.9" fill="none" stroke="#231F20" stroke-width="6.9" stroke-linejoin="round" stroke-linecap="butt" stroke-dasharray="7.90 9.30"/>
<rect x="1437.5" y="203.5" width="32.0" height="32.0" fill="#231F20" stroke="#231F20" stroke-width="4.0"/>
<rect x="1437.5" y="333.7" width="32.0" height="32.0" fill="#231F20" stroke="#231F20" stroke-width="4.0"/>
<rect x="1437.5" y="470.7" width="32.0" height="32.0" fill="#231F20" stroke="#231F20" stroke-width="4.0"/>
<rect x="1439.8" y="607.8" width="32.0" height="32.0" fill="#231F20" stroke="#231F20" stroke-width="4.0"/>
<rect x="1437.5" y="744.8" width="32.0" height="32.0" fill="#231F20" stroke="#231F20" stroke-width="4.0"/>
<rect x="1437.5" y="881.9" width="32.0" height="32.0" fill="#231F20" stroke="#231F20" stroke-width="4.0"/>
<rect x="1482.0" y="949.1" width="32.0" height="32.0" fill="#231F20" stroke="#231F20" stroke-width="4.0"/>
<rect x="1549.4" y="1019.0" width="32.0" height="32.0" fill="#231F20" stroke="#231F20" stroke-width="4.0"/>
<rect x="1635.2" y="1084.7" width="32.0" height="32.0" fill="#231F20" stroke="#231F20" stroke-width="4.0"/>
<rect x="1685.4" y="1153.3" width="32.0" height="32.0" fill="#231F20" stroke="#231F20" stroke-width="4.0"/>
<rect x="1753.0" y="1227.3" width="32.0" height="32.0" fill="#231F20" stroke="#231F20" stroke-width="4.0"/>
<rect x="1854.9" y="1292.1" width="32.0" height="32.0" fill="#231F20" stroke="#231F20" stroke-width="4.0"/>
<rect x="1885.0" y="1325.3" width="32.0" height="32.0" fill="#231F20" stroke="#231F20" stroke-width="4.0"/>
<rect x="1930.6" y="1352.6" width="32.0" height="32.0" fill="#231F20" stroke="#231F20" stroke-width="4.0"/>
<rect x="1992.8" y="1376.8" width="32.0" height="32.0" fill="#231F20" stroke="#231F20" stroke-width="4.0"/>
<rect x="2036.4" y="1406.6" width="32.0" height="32.0" fill="#231F20" stroke="#231F20" stroke-width="4.0"/>
<rect x="2088.4" y="1430.7" width="32.0" height="32.0" fill="#231F20" stroke="#231F20" stroke-width="4.0"/>
<rect x="2161.8" y="1463.0" width="32.0" height="32.0" fill="#231F20" stroke="#231F20" stroke-width="4.0"/>
<rect x="2256.1" y="1490.3" width="32.0" height="32.0" fill="#231F20" stroke="#231F20" stroke-width="4.0"/>
<rect x="2302.6" y="1512.4" width="32.0" height="32.0" fill="#231F20" stroke="#231F20" stroke-width="4.0"/>
<rect x="2350.1" y="1540.5" width="32.0" height="32.0" fill="#231F20" stroke="#231F20" stroke-width="4.0"/>
<rect x="2315.7" y="1560.9" width="32.0" height="32.0" fill="#231F20" stroke="#231F20" stroke-width="4.0"/>
<path d="M1456.9 212.6L1453.5 349.7L1453.5 486.7L1453.5 623.8L1460.3 760.8L1556.3 897.9L1628.0 967.8L1641.1 1039.1L1708.7 1105.5L1790.0 1172.0L1872.5 1240.6L1980.5 1311.4L2018.5 1335.5L2067.1 1363.9L2175.6 1421.5L2209.2 1445.0L2233.7 1472.9L2216.5 1503.0L2165.6 1528.7L2060.5 1555.2L1941.2 1576.6" fill="none" stroke="#231F20" stroke-width="6.9" stroke-linejoin="round" stroke-linecap="butt" stroke-dasharray="7.90 9.30"/>
<path d="M1456.9 196.6L1440.9 228.6L1472.9 228.6Z" fill="#231F20" stroke="#231F20" stroke-width="4.0" stroke-miterlimit="10"/>
<path d="M1453.5 333.7L1437.5 365.7L1469.5 365.7Z" fill="#231F20" stroke="#231F20" stroke-width="4.0" stroke-miterlimit="10"/>
<path d="M1453.5 470.7L1437.5 502.7L1469.5 502.7Z" fill="#231F20" stroke="#231F20" stroke-width="4.0" stroke-miterlimit="10"/>
<path d="M1453.5 607.8L1437.5 639.8L1469.5 639.8Z" fill="#231F20" stroke="#231F20" stroke-width="4.0" stroke-miterlimit="10"/>
<path d="M1460.3 744.8L1444.3 776.8L1476.3 776.8Z" fill="#231F20" stroke="#231F20" stroke-width="4.0" stroke-miterlimit="10"/>
<path d="M1556.3 881.9L1540.3 913.9L1572.3 913.9Z" fill="#231F20" stroke="#231F20" stroke-width="4.0" stroke-miterlimit="10"/>
<path d="M1628.0 951.8L1612.0 983.8L1644.0 983.8Z" fill="#231F20" stroke="#231F20" stroke-width="4.0" stroke-miterlimit="10"/>
<path d="M1641.1 1023.1L1625.1 1055.1L1657.1 1055.1Z" fill="#231F20" stroke="#231F20" stroke-width="4.0" stroke-miterlimit="10"/>
<path d="M1708.7 1089.5L1692.7 1121.5L1724.7 1121.5Z" fill="#231F20" stroke="#231F20" stroke-width="4.0" stroke-miterlimit="10"/>
<path d="M1790.0 1156.0L1774.0 1188.0L1806.0 1188.0Z" fill="#231F20" stroke="#231F20" stroke-width="4.0" stroke-miterlimit="10"/>
<path d="M1872.5 1224.6L1856.5 1256.6L1888.5 1256.6Z" fill="#231F20" stroke="#231F20" stroke-width="4.0" stroke-miterlimit="10"/>
<path d="M1980.5 1295.4L1964.5 1327.4L1996.5 1327.4Z" fill="#231F20" stroke="#231F20" stroke-width="4.0" stroke-miterlimit="10"/>
<path d="M2018.5 1319.5L2002.5 1351.5L2034.5 1351.5Z" fill="#231F20" stroke="#231F20" stroke-width="4.0" stroke-miterlimit="10"/>
<path d="M2067.1 1347.9L2051.1 1379.9L2083.1 1379.9Z" fill="#231F20" stroke="#231F20" stroke-width="4.0" stroke-miterlimit="10"/>
<path d="M2175.6 1405.5L2159.6 1437.5L2191.6 1437.5Z" fill="#231F20" stroke="#231F20" stroke-width="4.0" stroke-miterlimit="10"/>
<path d="M2209.2 1429.0L2193.2 1461.0L2225.2 1461.0Z" fill="#231F20" stroke="#231F20" stroke-width="4.0" stroke-miterlimit="10"/>
<path d="M2233.7 1456.9L2217.7 1488.9L2249.7 1488.9Z" fill="#231F20" stroke="#231F20" stroke-width="4.0" stroke-miterlimit="10"/>
<path d="M2216.5 1487.0L2200.5 1519.0L2232.5 1519.0Z" fill="#231F20" stroke="#231F20" stroke-width="4.0" stroke-miterlimit="10"/>
<path d="M2165.6 1512.7L2149.6 1544.7L2181.6 1544.7Z" fill="#231F20" stroke="#231F20" stroke-width="4.0" stroke-miterlimit="10"/>
<path d="M2060.5 1539.2L2044.5 1571.2L2076.5 1571.2Z" fill="#231F20" stroke="#231F20" stroke-width="4.0" stroke-miterlimit="10"/>
<path d="M1941.2 1560.6L1925.2 1592.6L1957.2 1592.6Z" fill="#231F20" stroke="#231F20" stroke-width="4.0" stroke-miterlimit="10"/>
<path d="M1453.5 212.6L1461.4 349.7L1469.3 486.7L1462.5 623.8L1476.1 760.8L1593.6 897.9L1637.2 966.4L1702.8 1035.6L1757.5 1102.1L1826.2 1167.9L1976.2 1240.6L2062.8 1312.1L2076.8 1342.7L2108.9 1364.9L2141.0 1390.4L2153.4 1421.2L2154.1 1447.5L2170.4 1475.5L2145.5 1506.0L2073.2 1530.0L1952.1 1558.0L1874.8 1577.7" fill="none" stroke="#231F20" stroke-width="6.9" stroke-linejoin="round" stroke-linecap="butt" stroke-dasharray="7.90 9.30"/>
<circle cx="1453.5" cy="212.6" r="18.0" fill="#231F20"/>
<circle cx="1461.4" cy="349.7" r="18.0" fill="#231F20"/>
<circle cx="1469.3" cy="486.7" r="18.0" fill="#231F20"/>
<circle cx="1462.5" cy="623.8" r="18.0" fill="#231F20"/>
<circle cx="1476.1" cy="760.8" r="18.0" fill="#231F20"/>
<circle cx="1593.6" cy="897.9" r="18.0" fill="#231F20"/>
<circle cx="1637.2" cy="966.4" r="18.0" fill="#231F20"/>
<circle cx="1702.8" cy="1035.6" r="18.0" fill="#231F20"/>
<circle cx="1757.5" cy="1102.1" r="18.0" fill="#231F20"/>
<circle cx="1826.2" cy="1167.9" r="18.0" fill="#231F20"/>
<circle cx="1976.2" cy="1240.6" r="18.0" fill="#231F20"/>
<circle cx="2062.8" cy="1312.1" r="18.0" fill="#231F20"/>
<circle cx="2076.8" cy="1342.7" r="18.0" fill="#231F20"/>
<circle cx="2108.9" cy="1364.9" r="18.0" fill="#231F20"/>
<circle cx="2141.0" cy="1390.4" r="18.0" fill="#231F20"/>
<circle cx="2153.4" cy="1421.2" r="18.0" fill="#231F20"/>
<circle cx="2154.1" cy="1447.5" r="18.0" fill="#231F20"/>
<circle cx="2170.4" cy="1475.5" r="18.0" fill="#231F20"/>
<circle cx="2145.5" cy="1506.0" r="18.0" fill="#231F20"/>
<circle cx="2073.2" cy="1530.0" r="18.0" fill="#231F20"/>
<circle cx="1952.1" cy="1558.0" r="18.0" fill="#231F20"/>
<circle cx="1874.8" cy="1577.7" r="18.0" fill="#231F20"/>
<path d="M1451.0 214.0L1451.0 349.7L1453.5 486.7L1467.1 623.8L1565.4 762.2L1617.3 897.9L1681.3 966.4L1749.6 1035.0L1816.2 1102.1L1949.8 1172.0L2021.0 1239.9L2021.4 1309.1L2036.6 1341.4L2045.6 1372.1L2063.7 1392.7L2086.3 1420.1L2066.4 1449.8L2026.6 1480.1L1973.8 1501.4L1894.2 1529.7L1818.9 1560.3L1768.3 1581.8" fill="none" stroke="#231F20" stroke-width="6.9" stroke-linejoin="round" stroke-linecap="butt" stroke-dasharray="7.90 9.30"/>
<path d="M1443.0 198.0L1451.0 206.0L1459.0 198.0L1467.0 206.0L1459.0 214.0L1467.0 222.0L1459.0 230.0L1451.0 222.0L1443.0 230.0L1435.0 222.0L1443.0 214.0L1435.0 206.0Z" fill="#231F20" stroke="#231F20" stroke-width="4.0" stroke-miterlimit="10"/>
<path d="M1443.0 333.7L1451.0 341.7L1459.0 333.7L1467.0 341.7L1459.0 349.7L1467.0 357.7L1459.0 365.7L1451.0 357.7L1443.0 365.7L1435.0 357.7L1443.0 349.7L1435.0 341.7Z" fill="#231F20" stroke="#231F20" stroke-width="4.0" stroke-miterlimit="10"/>
<path d="M1445.5 470.7L1453.5 478.7L1461.5 470.7L1469.5 478.7L1461.5 486.7L1469.5 494.7L1461.5 502.7L1453.5 494.7L1445.5 502.7L1437.5 494.7L1445.5 486.7L1437.5 478.7Z" fill="#231F20" stroke="#231F20" stroke-width="4.0" stroke-miterlimit="10"/>
<path d="M1459.1 607.8L1467.1 615.8L1475.1 607.8L1483.1 615.8L1475.1 623.8L1483.1 631.8L1475.1 639.8L1467.1 631.8L1459.1 639.8L1451.1 631.8L1459.1 623.8L1451.1 615.8Z" fill="#231F20" stroke="#231F20" stroke-width="4.0" stroke-miterlimit="10"/>
<path d="M1557.4 746.2L1565.4 754.2L1573.4 746.2L1581.4 754.2L1573.4 762.2L1581.4 770.2L1573.4 778.2L1565.4 770.2L1557.4 778.2L1549.4 770.2L1557.4 762.2L1549.4 754.2Z" fill="#231F20" stroke="#231F20" stroke-width="4.0" stroke-miterlimit="10"/>
<path d="M1609.3 881.9L1617.3 889.9L1625.3 881.9L1633.3 889.9L1625.3 897.9L1633.3 905.9L1625.3 913.9L1617.3 905.9L1609.3 913.9L1601.3 905.9L1609.3 897.9L1601.3 889.9Z" fill="#231F20" stroke="#231F20" stroke-width="4.0" stroke-miterlimit="10"/>
<path d="M1673.3 950.4L1681.3 958.4L1689.3 950.4L1697.3 958.4L1689.3 966.4L1697.3 974.4L1689.3 982.4L1681.3 974.4L1673.3 982.4L1665.3 974.4L1673.3 966.4L1665.3 958.4Z" fill="#231F20" stroke="#231F20" stroke-width="4.0" stroke-miterlimit="10"/>
<path d="M1741.6 1019.0L1749.6 1027.0L1757.6 1019.0L1765.6 1027.0L1757.6 1035.0L1765.6 1043.0L1757.6 1051.0L1749.6 1043.0L1741.6 1051.0L1733.6 1043.0L1741.6 1035.0L1733.6 1027.0Z" fill="#231F20" stroke="#231F20" stroke-width="4.0" stroke-miterlimit="10"/>
<path d="M1808.2 1086.1L1816.2 1094.1L1824.2 1086.1L1832.2 1094.1L1824.2 1102.1L1832.2 1110.1L1824.2 1118.1L1816.2 1110.1L1808.2 1118.1L1800.2 1110.1L1808.2 1102.1L1800.2 1094.1Z" fill="#231F20" stroke="#231F20" stroke-width="4.0" stroke-miterlimit="10"/>
<path d="M1941.8 1156.0L1949.8 1164.0L1957.8 1156.0L1965.8 1164.0L1957.8 1172.0L1965.8 1180.0L1957.8 1188.0L1949.8 1180.0L1941.8 1188.0L1933.8 1180.0L1941.8 1172.0L1933.8 1164.0Z" fill="#231F20" stroke="#231F20" stroke-width="4.0" stroke-miterlimit="10"/>
<path d="M2013.0 1223.9L2021.0 1231.9L2029.0 1223.9L2037.0 1231.9L2029.0 1239.9L2037.0 1247.9L2029.0 1255.9L2021.0 1247.9L2013.0 1255.9L2005.0 1247.9L2013.0 1239.9L2005.0 1231.9Z" fill="#231F20" stroke="#231F20" stroke-width="4.0" stroke-miterlimit="10"/>
<path d="M2013.4 1293.1L2021.4 1301.1L2029.4 1293.1L2037.4 1301.1L2029.4 1309.1L2037.4 1317.1L2029.4 1325.1L2021.4 1317.1L2013.4 1325.1L2005.4 1317.1L2013.4 1309.1L2005.4 1301.1Z" fill="#231F20" stroke="#231F20" stroke-width="4.0" stroke-miterlimit="10"/>
<path d="M2028.6 1325.4L2036.6 1333.4L2044.6 1325.4L2052.6 1333.4L2044.6 1341.4L2052.6 1349.4L2044.6 1357.4L2036.6 1349.4L2028.6 1357.4L2020.6 1349.4L2028.6 1341.4L2020.6 1333.4Z" fill="#231F20" stroke="#231F20" stroke-width="4.0" stroke-miterlimit="10"/>
<path d="M2037.6 1356.1L2045.6 1364.1L2053.6 1356.1L2061.6 1364.1L2053.6 1372.1L2061.6 1380.1L2053.6 1388.1L2045.6 1380.1L2037.6 1388.1L2029.6 1380.1L2037.6 1372.1L2029.6 1364.1Z" fill="#231F20" stroke="#231F20" stroke-width="4.0" stroke-miterlimit="10"/>
<path d="M2055.7 1376.7L2063.7 1384.7L2071.7 1376.7L2079.7 1384.7L2071.7 1392.7L2079.7 1400.7L2071.7 1408.7L2063.7 1400.7L2055.7 1408.7L2047.7 1400.7L2055.7 1392.7L2047.7 1384.7Z" fill="#231F20" stroke="#231F20" stroke-width="4.0" stroke-miterlimit="10"/>
<path d="M2078.3 1404.1L2086.3 1412.1L2094.3 1404.1L2102.3 1412.1L2094.3 1420.1L2102.3 1428.1L2094.3 1436.1L2086.3 1428.1L2078.3 1436.1L2070.3 1428.1L2078.3 1420.1L2070.3 1412.1Z" fill="#231F20" stroke="#231F20" stroke-width="4.0" stroke-miterlimit="10"/>
<path d="M2058.4 1433.8L2066.4 1441.8L2074.4 1433.8L2082.4 1441.8L2074.4 1449.8L2082.4 1457.8L2074.4 1465.8L2066.4 1457.8L2058.4 1465.8L2050.4 1457.8L2058.4 1449.8L2050.4 1441.8Z" fill="#231F20" stroke="#231F20" stroke-width="4.0" stroke-miterlimit="10"/>
<path d="M2018.6 1464.1L2026.6 1472.1L2034.6 1464.1L2042.6 1472.1L2034.6 1480.1L2042.6 1488.1L2034.6 1496.1L2026.6 1488.1L2018.6 1496.1L2010.6 1488.1L2018.6 1480.1L2010.6 1472.1Z" fill="#231F20" stroke="#231F20" stroke-width="4.0" stroke-miterlimit="10"/>
<path d="M1965.8 1485.4L1973.8 1493.4L1981.8 1485.4L1989.8 1493.4L1981.8 1501.4L1989.8 1509.4L1981.8 1517.4L1973.8 1509.4L1965.8 1517.4L1957.8 1509.4L1965.8 1501.4L1957.8 1493.4Z" fill="#231F20" stroke="#231F20" stroke-width="4.0" stroke-miterlimit="10"/>
<path d="M1886.2 1513.7L1894.2 1521.7L1902.2 1513.7L1910.2 1521.7L1902.2 1529.7L1910.2 1537.7L1902.2 1545.7L1894.2 1537.7L1886.2 1545.7L1878.2 1537.7L1886.2 1529.7L1878.2 1521.7Z" fill="#231F20" stroke="#231F20" stroke-width="4.0" stroke-miterlimit="10"/>
<path d="M1810.9 1544.3L1818.9 1552.3L1826.9 1544.3L1834.9 1552.3L1826.9 1560.3L1834.9 1568.3L1826.9 1576.3L1818.9 1568.3L1810.9 1576.3L1802.9 1568.3L1810.9 1560.3L1802.9 1552.3Z" fill="#231F20" stroke="#231F20" stroke-width="4.0" stroke-miterlimit="10"/>
<path d="M1760.3 1565.8L1768.3 1573.8L1776.3 1565.8L1784.3 1573.8L1776.3 1581.8L1784.3 1589.8L1776.3 1597.8L1768.3 1589.8L1760.3 1597.8L1752.3 1589.8L1760.3 1581.8L1752.3 1573.8Z" fill="#231F20" stroke="#231F20" stroke-width="4.0" stroke-miterlimit="10"/>
</g>
<path d="M1453.5 1651.6v15.7M1679.5 1651.6v15.7M1905.5 1651.6v15.7M2131.5 1651.6v15.7M2357.5 1651.6v15.7M1404.6 1583.2h-15.7M1404.6 1309.1h-15.7M1404.6 1035.0h-15.7M1404.6 760.8h-15.7M1404.6 486.7h-15.7M1404.6 212.6h-15.7" stroke="#231F20" stroke-width="4.2" fill="none"/>
<rect x="1404.6" y="144.5" width="1007.8" height="1507.1" fill="none" stroke="#231F20" stroke-width="5.0"/>
<g font-size="47.5" fill="#231F20">
<text x="1453.5" y="1717.5" text-anchor="middle">0</text>
<text x="1679.5" y="1717.5" text-anchor="middle">1</text>
<text x="1905.5" y="1717.5" text-anchor="middle">2</text>
<text x="2131.5" y="1717.5" text-anchor="middle">3</text>
<text x="2357.5" y="1717.5" text-anchor="middle">4</text>
<text x="1374.3" y="1601.2" text-anchor="end">0</text>
<text x="1374.3" y="1327.1" text-anchor="end">2</text>
<text x="1374.3" y="1053.0" text-anchor="end">4</text>
<text x="1374.3" y="778.8" text-anchor="end">6</text>
<text x="1374.3" y="504.7" text-anchor="end">8</text>
<text x="1374.3" y="230.6" text-anchor="end">10</text>
<text x="1908.5" y="1781" text-anchor="middle">U [m/s]</text>
<text transform="translate(1286.9 898.0) rotate(-90)" text-anchor="middle">Y [mm]</text>
</g>
<rect x="1919.6" y="168.5" width="469.3" height="569.4" rx="9" ry="9" fill="#fff" fill-opacity="0.8" stroke="#D9DBDC" stroke-width="5"/>
<g font-size="47.5" fill="#231F20">
<path d="M1938.1 206.4H2034.1" stroke="#ED1C24" stroke-width="7.0" stroke-linecap="square"/>
<rect x="1970.1" y="190.4" width="32.0" height="32.0" fill="#ED1C24" stroke="#ED1C24" stroke-width="4.0"/>
<text x="2070.4" y="223.0">10 mm Shyy</text>
<path d="M1938.1 275.9H2034.1" stroke="#3953A4" stroke-width="7.8" stroke-linecap="square"/>
<path d="M1986.1 259.9L1970.1 291.9L2002.1 291.9Z" fill="#3953A4" stroke="#3953A4" stroke-width="4.0" stroke-miterlimit="10"/>
<text x="2070.4" y="292.5">15 mm Shyy</text>
<path d="M1938.1 345.4H2034.1" stroke="#FAA61A" stroke-width="7.0" stroke-linecap="butt" stroke-dasharray="24.70 9.80"/>
<circle cx="1986.1" cy="345.4" r="15.6" fill="#FAA61A"/>
<text x="2070.4" y="362.0">40 mm Shyy</text>
<path d="M1938.1 414.9H2034.1" stroke="#4DB848" stroke-width="7.8" stroke-linecap="butt" stroke-dasharray="42.40 9.60 7.50 9.60"/>
<path d="M1986.1 395.1L1998.0 414.9L1986.1 434.7L1974.2 414.9Z" fill="#4DB848" stroke="#4DB848" stroke-width="4.0" stroke-miterlimit="10"/>
<text x="2070.4" y="431.5">75 mm Shyy</text>
<path d="M1938.1 484.4H2034.1" stroke="#231F20" stroke-width="6.9" stroke-linecap="butt" stroke-dasharray="7.90 9.30"/>
<rect x="1970.1" y="468.4" width="32.0" height="32.0" fill="#231F20" stroke="#231F20" stroke-width="4.0"/>
<text x="2070.4" y="501.0">10mm Forte</text>
<path d="M1938.1 553.9H2034.1" stroke="#231F20" stroke-width="6.9" stroke-linecap="butt" stroke-dasharray="7.90 9.30"/>
<path d="M1986.1 537.9L1970.1 569.9L2002.1 569.9Z" fill="#231F20" stroke="#231F20" stroke-width="4.0" stroke-miterlimit="10"/>
<text x="2070.4" y="570.5">30mm Forte</text>
<path d="M1938.1 623.4H2034.1" stroke="#231F20" stroke-width="6.9" stroke-linecap="butt" stroke-dasharray="7.90 9.30"/>
<circle cx="1986.1" cy="623.4" r="18.0" fill="#231F20"/>
<text x="2070.4" y="640.0">40mm Forte</text>
<path d="M1938.1 692.9H2034.1" stroke="#231F20" stroke-width="6.9" stroke-linecap="butt" stroke-dasharray="7.90 9.30"/>
<path d="M1978.1 676.9L1986.1 684.9L1994.1 676.9L2002.1 684.9L1994.1 692.9L2002.1 700.9L1994.1 708.9L1986.1 700.9L1978.1 708.9L1970.1 700.9L1978.1 692.9L1970.1 684.9Z" fill="#231F20" stroke="#231F20" stroke-width="4.0" stroke-miterlimit="10"/>
<text x="2070.4" y="709.5">60mm Forte</text>
</g>
</svg>
</body></html>
